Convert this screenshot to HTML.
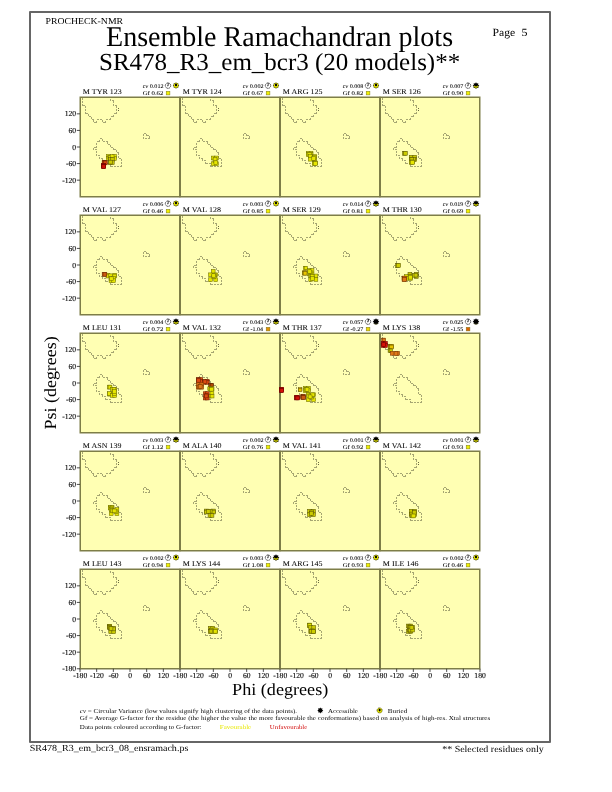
<!DOCTYPE html><html><head><meta charset="utf-8"><title>Ensemble Ramachandran plots</title>
<style>html,body{margin:0;padding:0;background:#fff;}svg{display:block;will-change:transform;}text{font-family:"Liberation Serif",serif;fill:#000;text-rendering:geometricPrecision;}</style></head><body>
<svg width="612" height="792" viewBox="0 0 612 792">
<rect x="0" y="0" width="612" height="792" fill="#fff"/>
<rect x="30" y="12" width="520" height="730" fill="none" stroke="#666" stroke-width="2" stroke-linejoin="round"/>
<text x="45.51" y="23.60" font-size="9.00" textLength="77.60" lengthAdjust="spacingAndGlyphs">PROCHECK-NMR</text>
<text x="492.45" y="35.50" font-size="11.00" textLength="22.75" lengthAdjust="spacingAndGlyphs">Page</text>
<text x="521.48" y="35.50" font-size="11.00" textLength="6.00" lengthAdjust="spacingAndGlyphs">5</text>
<text x="106.06" y="45.90" font-size="28.50" textLength="347.02" lengthAdjust="spacingAndGlyphs">Ensemble Ramachandran plots</text>
<text x="99.02" y="69.50" font-size="24.50" textLength="361.19" lengthAdjust="spacingAndGlyphs">SR478_R3_em_bcr3 (20 models)**</text>
<rect x="80.25" y="97.25" width="99.50" height="99.50" fill="#FFFFB3"/>
<rect x="180.25" y="97.25" width="99.50" height="99.50" fill="#FFFFB3"/>
<rect x="280.25" y="97.25" width="99.50" height="99.50" fill="#FFFFB3"/>
<rect x="380.25" y="97.25" width="99.50" height="99.50" fill="#FFFFB3"/>
<rect x="80.25" y="215.25" width="99.50" height="99.50" fill="#FFFFB3"/>
<rect x="180.25" y="215.25" width="99.50" height="99.50" fill="#FFFFB3"/>
<rect x="280.25" y="215.25" width="99.50" height="99.50" fill="#FFFFB3"/>
<rect x="380.25" y="215.25" width="99.50" height="99.50" fill="#FFFFB3"/>
<rect x="80.25" y="333.25" width="99.50" height="99.50" fill="#FFFFB3"/>
<rect x="180.25" y="333.25" width="99.50" height="99.50" fill="#FFFFB3"/>
<rect x="280.25" y="333.25" width="99.50" height="99.50" fill="#FFFFB3"/>
<rect x="380.25" y="333.25" width="99.50" height="99.50" fill="#FFFFB3"/>
<rect x="80.25" y="451.25" width="99.50" height="99.50" fill="#FFFFB3"/>
<rect x="180.25" y="451.25" width="99.50" height="99.50" fill="#FFFFB3"/>
<rect x="280.25" y="451.25" width="99.50" height="99.50" fill="#FFFFB3"/>
<rect x="380.25" y="451.25" width="99.50" height="99.50" fill="#FFFFB3"/>
<rect x="80.25" y="569.25" width="99.50" height="99.50" fill="#FFFFB3"/>
<rect x="180.25" y="569.25" width="99.50" height="99.50" fill="#FFFFB3"/>
<rect x="280.25" y="569.25" width="99.50" height="99.50" fill="#FFFFB3"/>
<rect x="380.25" y="569.25" width="99.50" height="99.50" fill="#FFFFB3"/>
<rect x="80.25" y="97.25" width="99.50" height="99.50" fill="none" stroke="#7E7E48" stroke-width="1.5"/>
<rect x="180.25" y="97.25" width="99.50" height="99.50" fill="none" stroke="#7E7E48" stroke-width="1.5"/>
<rect x="280.25" y="97.25" width="99.50" height="99.50" fill="none" stroke="#7E7E48" stroke-width="1.5"/>
<rect x="380.25" y="97.25" width="99.50" height="99.50" fill="none" stroke="#7E7E48" stroke-width="1.5"/>
<rect x="80.25" y="215.25" width="99.50" height="99.50" fill="none" stroke="#7E7E48" stroke-width="1.5"/>
<rect x="180.25" y="215.25" width="99.50" height="99.50" fill="none" stroke="#7E7E48" stroke-width="1.5"/>
<rect x="280.25" y="215.25" width="99.50" height="99.50" fill="none" stroke="#7E7E48" stroke-width="1.5"/>
<rect x="380.25" y="215.25" width="99.50" height="99.50" fill="none" stroke="#7E7E48" stroke-width="1.5"/>
<rect x="80.25" y="333.25" width="99.50" height="99.50" fill="none" stroke="#7E7E48" stroke-width="1.5"/>
<rect x="180.25" y="333.25" width="99.50" height="99.50" fill="none" stroke="#7E7E48" stroke-width="1.5"/>
<rect x="280.25" y="333.25" width="99.50" height="99.50" fill="none" stroke="#7E7E48" stroke-width="1.5"/>
<rect x="380.25" y="333.25" width="99.50" height="99.50" fill="none" stroke="#7E7E48" stroke-width="1.5"/>
<rect x="80.25" y="451.25" width="99.50" height="99.50" fill="none" stroke="#7E7E48" stroke-width="1.5"/>
<rect x="180.25" y="451.25" width="99.50" height="99.50" fill="none" stroke="#7E7E48" stroke-width="1.5"/>
<rect x="280.25" y="451.25" width="99.50" height="99.50" fill="none" stroke="#7E7E48" stroke-width="1.5"/>
<rect x="380.25" y="451.25" width="99.50" height="99.50" fill="none" stroke="#7E7E48" stroke-width="1.5"/>
<rect x="80.25" y="569.25" width="99.50" height="99.50" fill="none" stroke="#7E7E48" stroke-width="1.5"/>
<rect x="180.25" y="569.25" width="99.50" height="99.50" fill="none" stroke="#7E7E48" stroke-width="1.5"/>
<rect x="280.25" y="569.25" width="99.50" height="99.50" fill="none" stroke="#7E7E48" stroke-width="1.5"/>
<rect x="380.25" y="569.25" width="99.50" height="99.50" fill="none" stroke="#7E7E48" stroke-width="1.5"/>
<path d="M82.5 97.5 L82.5 105.5 M82.5 105.5 L85.5 105.5 M85.5 105.5 L85.5 113.5 M85.5 113.5 L88.5 113.5 M88.5 113.5 L88.5 116.5 M88.5 116.5 L91.5 116.5 M91.5 116.5 L91.5 119.5 M91.5 119.5 L93.5 119.5 M93.5 119.5 L93.5 122.5 M93.5 122.5 L96.5 122.5 M96.5 122.5 L96.5 119.5 M96.5 119.5 L102.5 119.5 M102.5 119.5 L102.5 122.5 M102.5 122.5 L105.5 122.5 M105.5 122.5 L105.5 119.5 M105.5 119.5 L110.5 119.5 M110.5 119.5 L110.5 116.5 M110.5 116.5 L113.5 116.5 M113.5 116.5 L113.5 113.5 M113.5 113.5 L116.5 113.5 M116.5 113.5 L116.5 105.5 M116.5 105.5 L113.5 105.5 M113.5 105.5 L113.5 100.5 M113.5 100.5 L110.5 100.5 M110.5 100.5 L110.5 97.5 M99.5 138.5 L102.5 138.5 M102.5 138.5 L102.5 141.5 M102.5 141.5 L107.5 141.5 M107.5 141.5 L107.5 144.5 M107.5 144.5 L110.5 144.5 M110.5 144.5 L110.5 147.5 M110.5 147.5 L113.5 147.5 M113.5 147.5 L113.5 149.5 M113.5 149.5 L116.5 149.5 M116.5 149.5 L116.5 152.5 M116.5 152.5 L118.5 152.5 M118.5 152.5 L118.5 158.5 M118.5 158.5 L121.5 158.5 M121.5 158.5 L121.5 166.5 M121.5 166.5 L110.5 166.5 M110.5 166.5 L110.5 163.5 M110.5 163.5 L105.5 163.5 M105.5 163.5 L105.5 160.5 M105.5 160.5 L102.5 160.5 M102.5 160.5 L102.5 158.5 M102.5 158.5 L99.5 158.5 M99.5 158.5 L99.5 155.5 M99.5 155.5 L96.5 155.5 M96.5 155.5 L96.5 149.5 M96.5 149.5 L93.5 149.5 M93.5 149.5 L93.5 147.5 M93.5 147.5 L96.5 147.5 M96.5 147.5 L96.5 141.5 M96.5 141.5 L99.5 141.5 M99.5 141.5 L99.5 138.5 M143.5 133.5 L146.5 133.5 M146.5 133.5 L146.5 135.5 M146.5 135.5 L149.5 135.5 M149.5 135.5 L149.5 138.5 M149.5 138.5 L143.5 138.5 M143.5 138.5 L143.5 133.5" fill="none" stroke="#a6a672" stroke-width="1" stroke-dasharray="2 1" shape-rendering="crispEdges"/>
<rect x="118" y="108" width="1" height="1" fill="#6a6a40"/>
<rect x="118" y="110" width="1" height="1" fill="#6a6a40"/>
<rect x="106.40" y="154.40" width="3.80" height="3.80" fill="#e6e600" stroke="#6e6e00" stroke-width="0.55"/>
<rect x="112.50" y="154.40" width="3.80" height="3.80" fill="#e6e600" stroke="#6e6e00" stroke-width="0.55"/>
<rect x="106.40" y="156.65" width="3.80" height="3.80" fill="#e6e600" stroke="#6e6e00" stroke-width="0.55"/>
<rect x="112.50" y="156.65" width="3.80" height="3.80" fill="#e6e600" stroke="#6e6e00" stroke-width="0.55"/>
<rect x="107.85" y="155.62" width="3.80" height="3.80" fill="#e6e600" stroke="#6e6e00" stroke-width="0.55"/>
<rect x="108.66" y="155.76" width="3.80" height="3.80" fill="#e6e600" stroke="#6e6e00" stroke-width="0.55"/>
<rect x="110.22" y="154.55" width="3.80" height="3.80" fill="#e6e600" stroke="#6e6e00" stroke-width="0.55"/>
<rect x="108.60" y="157.55" width="3.80" height="3.80" fill="#cccc00" stroke="#5c5800" stroke-width="0.55"/>
<rect x="110.40" y="157.55" width="3.80" height="3.80" fill="#cccc00" stroke="#5c5800" stroke-width="0.55"/>
<rect x="108.60" y="160.70" width="3.80" height="3.80" fill="#cccc00" stroke="#5c5800" stroke-width="0.55"/>
<rect x="110.40" y="160.70" width="3.80" height="3.80" fill="#cccc00" stroke="#5c5800" stroke-width="0.55"/>
<rect x="108.62" y="160.19" width="3.80" height="3.80" fill="#cccc00" stroke="#5c5800" stroke-width="0.55"/>
<rect x="102.20" y="160.50" width="3.80" height="3.80" fill="#dc4a10" stroke="#6a2000" stroke-width="0.55"/>
<rect x="103.30" y="160.50" width="3.80" height="3.80" fill="#dc4a10" stroke="#6a2000" stroke-width="0.55"/>
<rect x="102.20" y="161.00" width="3.80" height="3.80" fill="#dc4a10" stroke="#6a2000" stroke-width="0.55"/>
<rect x="103.30" y="161.00" width="3.80" height="3.80" fill="#dc4a10" stroke="#6a2000" stroke-width="0.55"/>
<rect x="101.50" y="163.55" width="3.80" height="3.80" fill="#d41008" stroke="#6a0000" stroke-width="0.55"/>
<rect x="101.90" y="163.55" width="3.80" height="3.80" fill="#d41008" stroke="#6a0000" stroke-width="0.55"/>
<rect x="101.50" y="164.70" width="3.80" height="3.80" fill="#d41008" stroke="#6a0000" stroke-width="0.55"/>
<rect x="101.90" y="164.70" width="3.80" height="3.80" fill="#d41008" stroke="#6a0000" stroke-width="0.55"/>
<text x="82.86" y="93.95" font-size="7.30" textLength="38.98" lengthAdjust="spacingAndGlyphs" stroke="#000" stroke-width="0.04">M TYR 123</text>
<text x="142.76" y="87.70" font-size="5.60" textLength="20.77" lengthAdjust="spacingAndGlyphs" stroke="#000" stroke-width="0.06"><tspan font-style="italic">cv</tspan> 0.012</text>
<text x="142.73" y="94.60" font-size="5.60" textLength="20.64" lengthAdjust="spacingAndGlyphs" stroke="#000" stroke-width="0.06">Gf 0.62</text>
<circle cx="168.00" cy="85.65" r="2.7" fill="#fff" stroke="#000" stroke-width="0.65" stroke-dasharray="1.5 0.35"/>
<path d="M168.20 82.95 L168.20 85.75 L167.10 85.75" fill="none" stroke="#000" stroke-width="0.7"/>
<polygon points="176.00,82.35 176.96,83.24 178.26,83.29 178.31,84.59 179.20,85.55 178.31,86.51 178.26,87.81 176.96,87.86 176.00,88.75 175.04,87.86 173.74,87.81 173.69,86.51 172.80,85.55 173.69,84.59 173.74,83.29 175.04,83.24" fill="#3c3c00"/>
<circle cx="176.00" cy="85.55" r="2.2" fill="#e8e800"/>
<ellipse cx="176.00" cy="85.05" rx="1.1" ry="1.3" fill="#000"/>
<rect x="166.20" y="91.30" width="3.7" height="3.6" fill="#f0f000" stroke="#7a7a20" stroke-width="0.5"/>
<path d="M182.5 97.5 L182.5 105.5 M182.5 105.5 L185.5 105.5 M185.5 105.5 L185.5 113.5 M185.5 113.5 L188.5 113.5 M188.5 113.5 L188.5 116.5 M188.5 116.5 L191.5 116.5 M191.5 116.5 L191.5 119.5 M191.5 119.5 L193.5 119.5 M193.5 119.5 L193.5 122.5 M193.5 122.5 L196.5 122.5 M196.5 122.5 L196.5 119.5 M196.5 119.5 L202.5 119.5 M202.5 119.5 L202.5 122.5 M202.5 122.5 L205.5 122.5 M205.5 122.5 L205.5 119.5 M205.5 119.5 L210.5 119.5 M210.5 119.5 L210.5 116.5 M210.5 116.5 L213.5 116.5 M213.5 116.5 L213.5 113.5 M213.5 113.5 L216.5 113.5 M216.5 113.5 L216.5 105.5 M216.5 105.5 L213.5 105.5 M213.5 105.5 L213.5 100.5 M213.5 100.5 L210.5 100.5 M210.5 100.5 L210.5 97.5 M199.5 138.5 L202.5 138.5 M202.5 138.5 L202.5 141.5 M202.5 141.5 L207.5 141.5 M207.5 141.5 L207.5 144.5 M207.5 144.5 L210.5 144.5 M210.5 144.5 L210.5 147.5 M210.5 147.5 L213.5 147.5 M213.5 147.5 L213.5 149.5 M213.5 149.5 L216.5 149.5 M216.5 149.5 L216.5 152.5 M216.5 152.5 L218.5 152.5 M218.5 152.5 L218.5 158.5 M218.5 158.5 L221.5 158.5 M221.5 158.5 L221.5 166.5 M221.5 166.5 L210.5 166.5 M210.5 166.5 L210.5 163.5 M210.5 163.5 L205.5 163.5 M205.5 163.5 L205.5 160.5 M205.5 160.5 L202.5 160.5 M202.5 160.5 L202.5 158.5 M202.5 158.5 L199.5 158.5 M199.5 158.5 L199.5 155.5 M199.5 155.5 L196.5 155.5 M196.5 155.5 L196.5 149.5 M196.5 149.5 L193.5 149.5 M193.5 149.5 L193.5 147.5 M193.5 147.5 L196.5 147.5 M196.5 147.5 L196.5 141.5 M196.5 141.5 L199.5 141.5 M199.5 141.5 L199.5 138.5 M243.5 133.5 L246.5 133.5 M246.5 133.5 L246.5 135.5 M246.5 135.5 L249.5 135.5 M249.5 135.5 L249.5 138.5 M249.5 138.5 L243.5 138.5 M243.5 138.5 L243.5 133.5" fill="none" stroke="#a6a672" stroke-width="1" stroke-dasharray="2 1" shape-rendering="crispEdges"/>
<rect x="218" y="108" width="1" height="1" fill="#6a6a40"/>
<rect x="218" y="110" width="1" height="1" fill="#6a6a40"/>
<rect x="211.30" y="156.10" width="3.80" height="3.80" fill="#e6e600" stroke="#6e6e00" stroke-width="0.55"/>
<rect x="214.50" y="156.10" width="3.80" height="3.80" fill="#e6e600" stroke="#6e6e00" stroke-width="0.55"/>
<rect x="211.30" y="161.80" width="3.80" height="3.80" fill="#e6e600" stroke="#6e6e00" stroke-width="0.55"/>
<rect x="214.50" y="161.80" width="3.80" height="3.80" fill="#e6e600" stroke="#6e6e00" stroke-width="0.55"/>
<rect x="213.13" y="158.54" width="3.80" height="3.80" fill="#e6e600" stroke="#6e6e00" stroke-width="0.55"/>
<rect x="213.15" y="157.27" width="3.80" height="3.80" fill="#e6e600" stroke="#6e6e00" stroke-width="0.55"/>
<rect x="213.90" y="160.79" width="3.80" height="3.80" fill="#e6e600" stroke="#6e6e00" stroke-width="0.55"/>
<text x="182.86" y="93.95" font-size="7.30" textLength="38.98" lengthAdjust="spacingAndGlyphs" stroke="#000" stroke-width="0.04">M TYR 124</text>
<text x="242.76" y="87.70" font-size="5.60" textLength="20.77" lengthAdjust="spacingAndGlyphs" stroke="#000" stroke-width="0.06"><tspan font-style="italic">cv</tspan> 0.002</text>
<text x="242.73" y="94.60" font-size="5.60" textLength="20.47" lengthAdjust="spacingAndGlyphs" stroke="#000" stroke-width="0.06">Gf 0.67</text>
<circle cx="268.00" cy="85.65" r="2.7" fill="#fff" stroke="#000" stroke-width="0.65" stroke-dasharray="1.5 0.35"/>
<path d="M268.20 82.95 L268.20 85.75 L267.10 85.75" fill="none" stroke="#000" stroke-width="0.7"/>
<polygon points="276.00,82.35 276.96,83.24 278.26,83.29 278.31,84.59 279.20,85.55 278.31,86.51 278.26,87.81 276.96,87.86 276.00,88.75 275.04,87.86 273.74,87.81 273.69,86.51 272.80,85.55 273.69,84.59 273.74,83.29 275.04,83.24" fill="#3c3c00"/>
<circle cx="276.00" cy="85.55" r="2.2" fill="#e8e800"/>
<ellipse cx="276.00" cy="85.05" rx="1.1" ry="1.3" fill="#000"/>
<rect x="266.20" y="91.30" width="3.7" height="3.6" fill="#f0f000" stroke="#7a7a20" stroke-width="0.5"/>
<path d="M282.5 97.5 L282.5 105.5 M282.5 105.5 L285.5 105.5 M285.5 105.5 L285.5 113.5 M285.5 113.5 L288.5 113.5 M288.5 113.5 L288.5 116.5 M288.5 116.5 L291.5 116.5 M291.5 116.5 L291.5 119.5 M291.5 119.5 L293.5 119.5 M293.5 119.5 L293.5 122.5 M293.5 122.5 L296.5 122.5 M296.5 122.5 L296.5 119.5 M296.5 119.5 L302.5 119.5 M302.5 119.5 L302.5 122.5 M302.5 122.5 L305.5 122.5 M305.5 122.5 L305.5 119.5 M305.5 119.5 L310.5 119.5 M310.5 119.5 L310.5 116.5 M310.5 116.5 L313.5 116.5 M313.5 116.5 L313.5 113.5 M313.5 113.5 L316.5 113.5 M316.5 113.5 L316.5 105.5 M316.5 105.5 L313.5 105.5 M313.5 105.5 L313.5 100.5 M313.5 100.5 L310.5 100.5 M310.5 100.5 L310.5 97.5 M299.5 138.5 L302.5 138.5 M302.5 138.5 L302.5 141.5 M302.5 141.5 L307.5 141.5 M307.5 141.5 L307.5 144.5 M307.5 144.5 L310.5 144.5 M310.5 144.5 L310.5 147.5 M310.5 147.5 L313.5 147.5 M313.5 147.5 L313.5 149.5 M313.5 149.5 L316.5 149.5 M316.5 149.5 L316.5 152.5 M316.5 152.5 L318.5 152.5 M318.5 152.5 L318.5 158.5 M318.5 158.5 L321.5 158.5 M321.5 158.5 L321.5 166.5 M321.5 166.5 L310.5 166.5 M310.5 166.5 L310.5 163.5 M310.5 163.5 L305.5 163.5 M305.5 163.5 L305.5 160.5 M305.5 160.5 L302.5 160.5 M302.5 160.5 L302.5 158.5 M302.5 158.5 L299.5 158.5 M299.5 158.5 L299.5 155.5 M299.5 155.5 L296.5 155.5 M296.5 155.5 L296.5 149.5 M296.5 149.5 L293.5 149.5 M293.5 149.5 L293.5 147.5 M293.5 147.5 L296.5 147.5 M296.5 147.5 L296.5 141.5 M296.5 141.5 L299.5 141.5 M299.5 141.5 L299.5 138.5 M343.5 133.5 L346.5 133.5 M346.5 133.5 L346.5 135.5 M346.5 135.5 L349.5 135.5 M349.5 135.5 L349.5 138.5 M349.5 138.5 L343.5 138.5 M343.5 138.5 L343.5 133.5" fill="none" stroke="#a6a672" stroke-width="1" stroke-dasharray="2 1" shape-rendering="crispEdges"/>
<rect x="318" y="108" width="1" height="1" fill="#6a6a40"/>
<rect x="318" y="110" width="1" height="1" fill="#6a6a40"/>
<rect x="306.40" y="151.40" width="3.80" height="3.80" fill="#e6e600" stroke="#6e6e00" stroke-width="0.55"/>
<rect x="309.10" y="151.40" width="3.80" height="3.80" fill="#e6e600" stroke="#6e6e00" stroke-width="0.55"/>
<rect x="306.40" y="152.70" width="3.80" height="3.80" fill="#e6e600" stroke="#6e6e00" stroke-width="0.55"/>
<rect x="309.10" y="152.70" width="3.80" height="3.80" fill="#e6e600" stroke="#6e6e00" stroke-width="0.55"/>
<rect x="307.81" y="152.45" width="3.80" height="3.80" fill="#e6e600" stroke="#6e6e00" stroke-width="0.55"/>
<rect x="308.40" y="154.60" width="3.80" height="3.80" fill="#e6e600" stroke="#6e6e00" stroke-width="0.55"/>
<rect x="312.80" y="154.60" width="3.80" height="3.80" fill="#e6e600" stroke="#6e6e00" stroke-width="0.55"/>
<rect x="308.40" y="157.30" width="3.80" height="3.80" fill="#e6e600" stroke="#6e6e00" stroke-width="0.55"/>
<rect x="312.80" y="157.30" width="3.80" height="3.80" fill="#e6e600" stroke="#6e6e00" stroke-width="0.55"/>
<rect x="312.63" y="155.38" width="3.80" height="3.80" fill="#e6e600" stroke="#6e6e00" stroke-width="0.55"/>
<rect x="311.77" y="156.50" width="3.80" height="3.80" fill="#e6e600" stroke="#6e6e00" stroke-width="0.55"/>
<rect x="312.30" y="161.00" width="3.80" height="3.80" fill="#e6e600" stroke="#6e6e00" stroke-width="0.55"/>
<rect x="313.50" y="161.00" width="3.80" height="3.80" fill="#e6e600" stroke="#6e6e00" stroke-width="0.55"/>
<rect x="312.30" y="161.50" width="3.80" height="3.80" fill="#e6e600" stroke="#6e6e00" stroke-width="0.55"/>
<rect x="313.50" y="161.50" width="3.80" height="3.80" fill="#e6e600" stroke="#6e6e00" stroke-width="0.55"/>
<text x="282.86" y="93.95" font-size="7.30" textLength="39.58" lengthAdjust="spacingAndGlyphs" stroke="#000" stroke-width="0.04">M ARG 125</text>
<text x="342.76" y="87.70" font-size="5.60" textLength="20.67" lengthAdjust="spacingAndGlyphs" stroke="#000" stroke-width="0.06"><tspan font-style="italic">cv</tspan> 0.008</text>
<text x="342.73" y="94.60" font-size="5.60" textLength="20.64" lengthAdjust="spacingAndGlyphs" stroke="#000" stroke-width="0.06">Gf 0.82</text>
<circle cx="368.00" cy="85.65" r="2.7" fill="#fff" stroke="#000" stroke-width="0.65" stroke-dasharray="1.5 0.35"/>
<path d="M368.20 82.95 L368.20 85.75 L367.10 85.75" fill="none" stroke="#000" stroke-width="0.7"/>
<polygon points="376.00,82.35 376.96,83.24 378.26,83.29 378.31,84.59 379.20,85.55 378.31,86.51 378.26,87.81 376.96,87.86 376.00,88.75 375.04,87.86 373.74,87.81 373.69,86.51 372.80,85.55 373.69,84.59 373.74,83.29 375.04,83.24" fill="#3c3c00"/>
<circle cx="376.00" cy="85.55" r="2.2" fill="#e8e800"/>
<ellipse cx="376.00" cy="85.05" rx="1.1" ry="1.3" fill="#000"/>
<rect x="366.20" y="91.30" width="3.7" height="3.6" fill="#f0f000" stroke="#7a7a20" stroke-width="0.5"/>
<path d="M382.5 97.5 L382.5 105.5 M382.5 105.5 L385.5 105.5 M385.5 105.5 L385.5 113.5 M385.5 113.5 L388.5 113.5 M388.5 113.5 L388.5 116.5 M388.5 116.5 L391.5 116.5 M391.5 116.5 L391.5 119.5 M391.5 119.5 L393.5 119.5 M393.5 119.5 L393.5 122.5 M393.5 122.5 L396.5 122.5 M396.5 122.5 L396.5 119.5 M396.5 119.5 L402.5 119.5 M402.5 119.5 L402.5 122.5 M402.5 122.5 L405.5 122.5 M405.5 122.5 L405.5 119.5 M405.5 119.5 L410.5 119.5 M410.5 119.5 L410.5 116.5 M410.5 116.5 L413.5 116.5 M413.5 116.5 L413.5 113.5 M413.5 113.5 L416.5 113.5 M416.5 113.5 L416.5 105.5 M416.5 105.5 L413.5 105.5 M413.5 105.5 L413.5 100.5 M413.5 100.5 L410.5 100.5 M410.5 100.5 L410.5 97.5 M399.5 138.5 L402.5 138.5 M402.5 138.5 L402.5 141.5 M402.5 141.5 L407.5 141.5 M407.5 141.5 L407.5 144.5 M407.5 144.5 L410.5 144.5 M410.5 144.5 L410.5 147.5 M410.5 147.5 L413.5 147.5 M413.5 147.5 L413.5 149.5 M413.5 149.5 L416.5 149.5 M416.5 149.5 L416.5 152.5 M416.5 152.5 L418.5 152.5 M418.5 152.5 L418.5 158.5 M418.5 158.5 L421.5 158.5 M421.5 158.5 L421.5 166.5 M421.5 166.5 L410.5 166.5 M410.5 166.5 L410.5 163.5 M410.5 163.5 L405.5 163.5 M405.5 163.5 L405.5 160.5 M405.5 160.5 L402.5 160.5 M402.5 160.5 L402.5 158.5 M402.5 158.5 L399.5 158.5 M399.5 158.5 L399.5 155.5 M399.5 155.5 L396.5 155.5 M396.5 155.5 L396.5 149.5 M396.5 149.5 L393.5 149.5 M393.5 149.5 L393.5 147.5 M393.5 147.5 L396.5 147.5 M396.5 147.5 L396.5 141.5 M396.5 141.5 L399.5 141.5 M399.5 141.5 L399.5 138.5 M443.5 133.5 L446.5 133.5 M446.5 133.5 L446.5 135.5 M446.5 135.5 L449.5 135.5 M449.5 135.5 L449.5 138.5 M449.5 138.5 L443.5 138.5 M443.5 138.5 L443.5 133.5" fill="none" stroke="#a6a672" stroke-width="1" stroke-dasharray="2 1" shape-rendering="crispEdges"/>
<rect x="418" y="108" width="1" height="1" fill="#6a6a40"/>
<rect x="418" y="110" width="1" height="1" fill="#6a6a40"/>
<rect x="402.50" y="151.40" width="3.80" height="3.80" fill="#cccc00" stroke="#5c5800" stroke-width="0.55"/>
<rect x="403.50" y="151.40" width="3.80" height="3.80" fill="#cccc00" stroke="#5c5800" stroke-width="0.55"/>
<rect x="409.30" y="155.30" width="3.80" height="3.80" fill="#cccc00" stroke="#5c5800" stroke-width="0.55"/>
<rect x="412.80" y="155.30" width="3.80" height="3.80" fill="#cccc00" stroke="#5c5800" stroke-width="0.55"/>
<rect x="409.30" y="157.65" width="3.80" height="3.80" fill="#cccc00" stroke="#5c5800" stroke-width="0.55"/>
<rect x="412.80" y="157.65" width="3.80" height="3.80" fill="#cccc00" stroke="#5c5800" stroke-width="0.55"/>
<rect x="411.79" y="157.27" width="3.80" height="3.80" fill="#cccc00" stroke="#5c5800" stroke-width="0.55"/>
<rect x="409.94" y="157.65" width="3.80" height="3.80" fill="#cccc00" stroke="#5c5800" stroke-width="0.55"/>
<rect x="409.60" y="160.05" width="3.80" height="3.80" fill="#e6e600" stroke="#6e6e00" stroke-width="0.55"/>
<rect x="410.60" y="160.05" width="3.80" height="3.80" fill="#e6e600" stroke="#6e6e00" stroke-width="0.55"/>
<rect x="409.60" y="160.45" width="3.80" height="3.80" fill="#e6e600" stroke="#6e6e00" stroke-width="0.55"/>
<rect x="410.60" y="160.45" width="3.80" height="3.80" fill="#e6e600" stroke="#6e6e00" stroke-width="0.55"/>
<text x="382.86" y="93.95" font-size="7.30" textLength="37.80" lengthAdjust="spacingAndGlyphs" stroke="#000" stroke-width="0.04">M SER 126</text>
<text x="442.76" y="87.70" font-size="5.60" textLength="20.61" lengthAdjust="spacingAndGlyphs" stroke="#000" stroke-width="0.06"><tspan font-style="italic">cv</tspan> 0.007</text>
<text x="442.73" y="94.60" font-size="5.60" textLength="20.54" lengthAdjust="spacingAndGlyphs" stroke="#000" stroke-width="0.06">Gf 0.90</text>
<circle cx="468.00" cy="85.65" r="2.7" fill="#fff" stroke="#000" stroke-width="0.65" stroke-dasharray="1.5 0.35"/>
<path d="M468.20 82.95 L468.20 85.75 L467.10 85.75" fill="none" stroke="#000" stroke-width="0.7"/>
<polygon points="476.00,82.25 476.88,83.43 478.33,83.22 478.12,84.67 479.30,85.55 478.12,86.43 478.33,87.88 476.88,87.67 476.00,88.85 475.12,87.67 473.67,87.88 473.88,86.43 472.70,85.55 473.88,84.67 473.67,83.22 475.12,83.43" fill="#000"/>
<polygon points="479.30,85.55 478.12,86.43 478.33,87.88 476.88,87.67 476.00,88.85 475.12,87.67 473.67,87.88 473.88,86.43 472.70,85.55" fill="#3c3c00"/>
<path d="M474.00 85.75 A2.0 2.0 0 0 0 478.00 85.75 Z" fill="#e8e800"/>
<circle cx="476.00" cy="85.25" r="1.25" fill="#000"/>
<rect x="466.20" y="91.30" width="3.7" height="3.6" fill="#f0f000" stroke="#7a7a20" stroke-width="0.5"/>
<path d="M82.5 215.5 L82.5 223.5 M82.5 223.5 L85.5 223.5 M85.5 223.5 L85.5 231.5 M85.5 231.5 L88.5 231.5 M88.5 231.5 L88.5 234.5 M88.5 234.5 L91.5 234.5 M91.5 234.5 L91.5 237.5 M91.5 237.5 L93.5 237.5 M93.5 237.5 L93.5 240.5 M93.5 240.5 L96.5 240.5 M96.5 240.5 L96.5 237.5 M96.5 237.5 L102.5 237.5 M102.5 237.5 L102.5 240.5 M102.5 240.5 L105.5 240.5 M105.5 240.5 L105.5 237.5 M105.5 237.5 L110.5 237.5 M110.5 237.5 L110.5 234.5 M110.5 234.5 L113.5 234.5 M113.5 234.5 L113.5 231.5 M113.5 231.5 L116.5 231.5 M116.5 231.5 L116.5 223.5 M116.5 223.5 L113.5 223.5 M113.5 223.5 L113.5 218.5 M113.5 218.5 L110.5 218.5 M110.5 218.5 L110.5 215.5 M99.5 256.5 L102.5 256.5 M102.5 256.5 L102.5 259.5 M102.5 259.5 L107.5 259.5 M107.5 259.5 L107.5 262.5 M107.5 262.5 L110.5 262.5 M110.5 262.5 L110.5 265.5 M110.5 265.5 L113.5 265.5 M113.5 265.5 L113.5 267.5 M113.5 267.5 L116.5 267.5 M116.5 267.5 L116.5 270.5 M116.5 270.5 L118.5 270.5 M118.5 270.5 L118.5 276.5 M118.5 276.5 L121.5 276.5 M121.5 276.5 L121.5 284.5 M121.5 284.5 L110.5 284.5 M110.5 284.5 L110.5 281.5 M110.5 281.5 L105.5 281.5 M105.5 281.5 L105.5 278.5 M105.5 278.5 L102.5 278.5 M102.5 278.5 L102.5 276.5 M102.5 276.5 L99.5 276.5 M99.5 276.5 L99.5 273.5 M99.5 273.5 L96.5 273.5 M96.5 273.5 L96.5 267.5 M96.5 267.5 L93.5 267.5 M93.5 267.5 L93.5 265.5 M93.5 265.5 L96.5 265.5 M96.5 265.5 L96.5 259.5 M96.5 259.5 L99.5 259.5 M99.5 259.5 L99.5 256.5 M143.5 251.5 L146.5 251.5 M146.5 251.5 L146.5 253.5 M146.5 253.5 L149.5 253.5 M149.5 253.5 L149.5 256.5 M149.5 256.5 L143.5 256.5 M143.5 256.5 L143.5 251.5" fill="none" stroke="#a6a672" stroke-width="1" stroke-dasharray="2 1" shape-rendering="crispEdges"/>
<rect x="118" y="226" width="1" height="1" fill="#6a6a40"/>
<rect x="118" y="228" width="1" height="1" fill="#6a6a40"/>
<rect x="106.10" y="273.30" width="3.80" height="3.80" fill="#e6e600" stroke="#6e6e00" stroke-width="0.55"/>
<rect x="112.80" y="273.30" width="3.80" height="3.80" fill="#e6e600" stroke="#6e6e00" stroke-width="0.55"/>
<rect x="106.10" y="274.15" width="3.80" height="3.80" fill="#e6e600" stroke="#6e6e00" stroke-width="0.55"/>
<rect x="112.80" y="274.15" width="3.80" height="3.80" fill="#e6e600" stroke="#6e6e00" stroke-width="0.55"/>
<rect x="108.73" y="273.88" width="3.80" height="3.80" fill="#e6e600" stroke="#6e6e00" stroke-width="0.55"/>
<rect x="109.10" y="276.55" width="3.80" height="3.80" fill="#e6e600" stroke="#6e6e00" stroke-width="0.55"/>
<rect x="111.50" y="276.55" width="3.80" height="3.80" fill="#e6e600" stroke="#6e6e00" stroke-width="0.55"/>
<rect x="109.10" y="278.80" width="3.80" height="3.80" fill="#e6e600" stroke="#6e6e00" stroke-width="0.55"/>
<rect x="111.50" y="278.80" width="3.80" height="3.80" fill="#e6e600" stroke="#6e6e00" stroke-width="0.55"/>
<rect x="109.43" y="276.80" width="3.80" height="3.80" fill="#e6e600" stroke="#6e6e00" stroke-width="0.55"/>
<rect x="102.20" y="272.40" width="3.80" height="3.80" fill="#cc5a10" stroke="#6a2800" stroke-width="0.55"/>
<rect x="103.00" y="272.40" width="3.80" height="3.80" fill="#cc5a10" stroke="#6a2800" stroke-width="0.55"/>
<text x="82.86" y="211.95" font-size="7.30" textLength="38.09" lengthAdjust="spacingAndGlyphs" stroke="#000" stroke-width="0.04">M VAL 127</text>
<text x="142.76" y="205.70" font-size="5.60" textLength="20.61" lengthAdjust="spacingAndGlyphs" stroke="#000" stroke-width="0.06"><tspan font-style="italic">cv</tspan> 0.006</text>
<text x="142.73" y="212.60" font-size="5.60" textLength="20.47" lengthAdjust="spacingAndGlyphs" stroke="#000" stroke-width="0.06">Gf 0.46</text>
<circle cx="168.00" cy="203.65" r="2.7" fill="#fff" stroke="#000" stroke-width="0.65" stroke-dasharray="1.5 0.35"/>
<path d="M168.20 200.95 L168.20 203.75 L167.10 203.75" fill="none" stroke="#000" stroke-width="0.7"/>
<polygon points="176.00,200.35 176.96,201.24 178.26,201.29 178.31,202.59 179.20,203.55 178.31,204.51 178.26,205.81 176.96,205.86 176.00,206.75 175.04,205.86 173.74,205.81 173.69,204.51 172.80,203.55 173.69,202.59 173.74,201.29 175.04,201.24" fill="#3c3c00"/>
<circle cx="176.00" cy="203.55" r="2.2" fill="#e8e800"/>
<ellipse cx="176.00" cy="203.05" rx="1.1" ry="1.3" fill="#000"/>
<rect x="166.20" y="209.30" width="3.7" height="3.6" fill="#f0f000" stroke="#7a7a20" stroke-width="0.5"/>
<path d="M182.5 215.5 L182.5 223.5 M182.5 223.5 L185.5 223.5 M185.5 223.5 L185.5 231.5 M185.5 231.5 L188.5 231.5 M188.5 231.5 L188.5 234.5 M188.5 234.5 L191.5 234.5 M191.5 234.5 L191.5 237.5 M191.5 237.5 L193.5 237.5 M193.5 237.5 L193.5 240.5 M193.5 240.5 L196.5 240.5 M196.5 240.5 L196.5 237.5 M196.5 237.5 L202.5 237.5 M202.5 237.5 L202.5 240.5 M202.5 240.5 L205.5 240.5 M205.5 240.5 L205.5 237.5 M205.5 237.5 L210.5 237.5 M210.5 237.5 L210.5 234.5 M210.5 234.5 L213.5 234.5 M213.5 234.5 L213.5 231.5 M213.5 231.5 L216.5 231.5 M216.5 231.5 L216.5 223.5 M216.5 223.5 L213.5 223.5 M213.5 223.5 L213.5 218.5 M213.5 218.5 L210.5 218.5 M210.5 218.5 L210.5 215.5 M199.5 256.5 L202.5 256.5 M202.5 256.5 L202.5 259.5 M202.5 259.5 L207.5 259.5 M207.5 259.5 L207.5 262.5 M207.5 262.5 L210.5 262.5 M210.5 262.5 L210.5 265.5 M210.5 265.5 L213.5 265.5 M213.5 265.5 L213.5 267.5 M213.5 267.5 L216.5 267.5 M216.5 267.5 L216.5 270.5 M216.5 270.5 L218.5 270.5 M218.5 270.5 L218.5 276.5 M218.5 276.5 L221.5 276.5 M221.5 276.5 L221.5 284.5 M221.5 284.5 L210.5 284.5 M210.5 284.5 L210.5 281.5 M210.5 281.5 L205.5 281.5 M205.5 281.5 L205.5 278.5 M205.5 278.5 L202.5 278.5 M202.5 278.5 L202.5 276.5 M202.5 276.5 L199.5 276.5 M199.5 276.5 L199.5 273.5 M199.5 273.5 L196.5 273.5 M196.5 273.5 L196.5 267.5 M196.5 267.5 L193.5 267.5 M193.5 267.5 L193.5 265.5 M193.5 265.5 L196.5 265.5 M196.5 265.5 L196.5 259.5 M196.5 259.5 L199.5 259.5 M199.5 259.5 L199.5 256.5 M243.5 251.5 L246.5 251.5 M246.5 251.5 L246.5 253.5 M246.5 253.5 L249.5 253.5 M249.5 253.5 L249.5 256.5 M249.5 256.5 L243.5 256.5 M243.5 256.5 L243.5 251.5" fill="none" stroke="#a6a672" stroke-width="1" stroke-dasharray="2 1" shape-rendering="crispEdges"/>
<rect x="218" y="226" width="1" height="1" fill="#6a6a40"/>
<rect x="218" y="228" width="1" height="1" fill="#6a6a40"/>
<rect x="211.30" y="269.40" width="3.80" height="3.80" fill="#e6e600" stroke="#6e6e00" stroke-width="0.55"/>
<rect x="208.60" y="272.90" width="3.80" height="3.80" fill="#e6e600" stroke="#6e6e00" stroke-width="0.55"/>
<rect x="213.80" y="272.90" width="3.80" height="3.80" fill="#e6e600" stroke="#6e6e00" stroke-width="0.55"/>
<rect x="208.60" y="277.80" width="3.80" height="3.80" fill="#e6e600" stroke="#6e6e00" stroke-width="0.55"/>
<rect x="213.80" y="277.80" width="3.80" height="3.80" fill="#e6e600" stroke="#6e6e00" stroke-width="0.55"/>
<rect x="211.93" y="275.00" width="3.80" height="3.80" fill="#e6e600" stroke="#6e6e00" stroke-width="0.55"/>
<rect x="212.37" y="273.22" width="3.80" height="3.80" fill="#e6e600" stroke="#6e6e00" stroke-width="0.55"/>
<rect x="212.23" y="274.74" width="3.80" height="3.80" fill="#e6e600" stroke="#6e6e00" stroke-width="0.55"/>
<rect x="211.76" y="273.73" width="3.80" height="3.80" fill="#e6e600" stroke="#6e6e00" stroke-width="0.55"/>
<text x="182.86" y="211.95" font-size="7.30" textLength="38.09" lengthAdjust="spacingAndGlyphs" stroke="#000" stroke-width="0.04">M VAL 128</text>
<text x="242.76" y="205.70" font-size="5.60" textLength="20.67" lengthAdjust="spacingAndGlyphs" stroke="#000" stroke-width="0.06"><tspan font-style="italic">cv</tspan> 0.003</text>
<text x="242.73" y="212.60" font-size="5.60" textLength="20.54" lengthAdjust="spacingAndGlyphs" stroke="#000" stroke-width="0.06">Gf 0.85</text>
<circle cx="268.00" cy="203.65" r="2.7" fill="#fff" stroke="#000" stroke-width="0.65" stroke-dasharray="1.5 0.35"/>
<path d="M268.20 200.95 L268.20 203.75 L267.10 203.75" fill="none" stroke="#000" stroke-width="0.7"/>
<polygon points="276.00,200.35 276.96,201.24 278.26,201.29 278.31,202.59 279.20,203.55 278.31,204.51 278.26,205.81 276.96,205.86 276.00,206.75 275.04,205.86 273.74,205.81 273.69,204.51 272.80,203.55 273.69,202.59 273.74,201.29 275.04,201.24" fill="#3c3c00"/>
<circle cx="276.00" cy="203.55" r="2.2" fill="#e8e800"/>
<ellipse cx="276.00" cy="203.05" rx="1.1" ry="1.3" fill="#000"/>
<rect x="266.20" y="209.30" width="3.7" height="3.6" fill="#f0f000" stroke="#7a7a20" stroke-width="0.5"/>
<path d="M282.5 215.5 L282.5 223.5 M282.5 223.5 L285.5 223.5 M285.5 223.5 L285.5 231.5 M285.5 231.5 L288.5 231.5 M288.5 231.5 L288.5 234.5 M288.5 234.5 L291.5 234.5 M291.5 234.5 L291.5 237.5 M291.5 237.5 L293.5 237.5 M293.5 237.5 L293.5 240.5 M293.5 240.5 L296.5 240.5 M296.5 240.5 L296.5 237.5 M296.5 237.5 L302.5 237.5 M302.5 237.5 L302.5 240.5 M302.5 240.5 L305.5 240.5 M305.5 240.5 L305.5 237.5 M305.5 237.5 L310.5 237.5 M310.5 237.5 L310.5 234.5 M310.5 234.5 L313.5 234.5 M313.5 234.5 L313.5 231.5 M313.5 231.5 L316.5 231.5 M316.5 231.5 L316.5 223.5 M316.5 223.5 L313.5 223.5 M313.5 223.5 L313.5 218.5 M313.5 218.5 L310.5 218.5 M310.5 218.5 L310.5 215.5 M299.5 256.5 L302.5 256.5 M302.5 256.5 L302.5 259.5 M302.5 259.5 L307.5 259.5 M307.5 259.5 L307.5 262.5 M307.5 262.5 L310.5 262.5 M310.5 262.5 L310.5 265.5 M310.5 265.5 L313.5 265.5 M313.5 265.5 L313.5 267.5 M313.5 267.5 L316.5 267.5 M316.5 267.5 L316.5 270.5 M316.5 270.5 L318.5 270.5 M318.5 270.5 L318.5 276.5 M318.5 276.5 L321.5 276.5 M321.5 276.5 L321.5 284.5 M321.5 284.5 L310.5 284.5 M310.5 284.5 L310.5 281.5 M310.5 281.5 L305.5 281.5 M305.5 281.5 L305.5 278.5 M305.5 278.5 L302.5 278.5 M302.5 278.5 L302.5 276.5 M302.5 276.5 L299.5 276.5 M299.5 276.5 L299.5 273.5 M299.5 273.5 L296.5 273.5 M296.5 273.5 L296.5 267.5 M296.5 267.5 L293.5 267.5 M293.5 267.5 L293.5 265.5 M293.5 265.5 L296.5 265.5 M296.5 265.5 L296.5 259.5 M296.5 259.5 L299.5 259.5 M299.5 259.5 L299.5 256.5 M343.5 251.5 L346.5 251.5 M346.5 251.5 L346.5 253.5 M346.5 253.5 L349.5 253.5 M349.5 253.5 L349.5 256.5 M349.5 256.5 L343.5 256.5 M343.5 256.5 L343.5 251.5" fill="none" stroke="#a6a672" stroke-width="1" stroke-dasharray="2 1" shape-rendering="crispEdges"/>
<rect x="318" y="226" width="1" height="1" fill="#6a6a40"/>
<rect x="318" y="228" width="1" height="1" fill="#6a6a40"/>
<rect x="303.40" y="266.40" width="3.30" height="3.30" fill="#e6e600" stroke="#6e6e00" stroke-width="0.55"/>
<rect x="304.20" y="266.40" width="3.30" height="3.30" fill="#e6e600" stroke="#6e6e00" stroke-width="0.55"/>
<rect x="302.70" y="270.80" width="3.80" height="3.80" fill="#e8c400" stroke="#6e5a00" stroke-width="0.55"/>
<rect x="303.20" y="270.80" width="3.80" height="3.80" fill="#e8c400" stroke="#6e5a00" stroke-width="0.55"/>
<rect x="302.70" y="271.30" width="3.80" height="3.80" fill="#e8c400" stroke="#6e5a00" stroke-width="0.55"/>
<rect x="303.20" y="271.30" width="3.80" height="3.80" fill="#e8c400" stroke="#6e5a00" stroke-width="0.55"/>
<rect x="307.60" y="268.60" width="3.80" height="3.80" fill="#e6e600" stroke="#6e6e00" stroke-width="0.55"/>
<rect x="310.10" y="268.60" width="3.80" height="3.80" fill="#e6e600" stroke="#6e6e00" stroke-width="0.55"/>
<rect x="307.60" y="272.05" width="3.80" height="3.80" fill="#e6e600" stroke="#6e6e00" stroke-width="0.55"/>
<rect x="310.10" y="272.05" width="3.80" height="3.80" fill="#e6e600" stroke="#6e6e00" stroke-width="0.55"/>
<rect x="308.28" y="270.28" width="3.80" height="3.80" fill="#e6e600" stroke="#6e6e00" stroke-width="0.55"/>
<rect x="307.80" y="269.77" width="3.80" height="3.80" fill="#e6e600" stroke="#6e6e00" stroke-width="0.55"/>
<rect x="308.80" y="274.05" width="3.80" height="3.80" fill="#e6e600" stroke="#6e6e00" stroke-width="0.55"/>
<rect x="314.00" y="274.05" width="3.80" height="3.80" fill="#e6e600" stroke="#6e6e00" stroke-width="0.55"/>
<rect x="308.80" y="277.50" width="3.80" height="3.80" fill="#e6e600" stroke="#6e6e00" stroke-width="0.55"/>
<rect x="314.00" y="277.50" width="3.80" height="3.80" fill="#e6e600" stroke="#6e6e00" stroke-width="0.55"/>
<rect x="309.18" y="274.09" width="3.80" height="3.80" fill="#e6e600" stroke="#6e6e00" stroke-width="0.55"/>
<rect x="310.28" y="274.46" width="3.80" height="3.80" fill="#e6e600" stroke="#6e6e00" stroke-width="0.55"/>
<rect x="310.42" y="276.61" width="3.80" height="3.80" fill="#e6e600" stroke="#6e6e00" stroke-width="0.55"/>
<text x="282.86" y="211.95" font-size="7.30" textLength="37.80" lengthAdjust="spacingAndGlyphs" stroke="#000" stroke-width="0.04">M SER 129</text>
<text x="342.76" y="205.70" font-size="5.60" textLength="20.52" lengthAdjust="spacingAndGlyphs" stroke="#000" stroke-width="0.06"><tspan font-style="italic">cv</tspan> 0.014</text>
<text x="342.73" y="212.60" font-size="5.60" textLength="20.68" lengthAdjust="spacingAndGlyphs" stroke="#000" stroke-width="0.06">Gf 0.81</text>
<circle cx="368.00" cy="203.65" r="2.7" fill="#fff" stroke="#000" stroke-width="0.65" stroke-dasharray="1.5 0.35"/>
<path d="M368.20 200.95 L368.20 203.75 L367.10 203.75" fill="none" stroke="#000" stroke-width="0.7"/>
<polygon points="376.00,200.25 376.88,201.43 378.33,201.22 378.12,202.67 379.30,203.55 378.12,204.43 378.33,205.88 376.88,205.67 376.00,206.85 375.12,205.67 373.67,205.88 373.88,204.43 372.70,203.55 373.88,202.67 373.67,201.22 375.12,201.43" fill="#000"/>
<polygon points="379.30,203.55 378.12,204.43 378.33,205.88 376.88,205.67 376.00,206.85 375.12,205.67 373.67,205.88 373.88,204.43 372.70,203.55" fill="#3c3c00"/>
<path d="M374.00 203.75 A2.0 2.0 0 0 0 378.00 203.75 Z" fill="#e8e800"/>
<circle cx="376.00" cy="203.25" r="1.25" fill="#000"/>
<rect x="366.20" y="209.30" width="3.7" height="3.6" fill="#f0f000" stroke="#7a7a20" stroke-width="0.5"/>
<path d="M382.5 215.5 L382.5 223.5 M382.5 223.5 L385.5 223.5 M385.5 223.5 L385.5 231.5 M385.5 231.5 L388.5 231.5 M388.5 231.5 L388.5 234.5 M388.5 234.5 L391.5 234.5 M391.5 234.5 L391.5 237.5 M391.5 237.5 L393.5 237.5 M393.5 237.5 L393.5 240.5 M393.5 240.5 L396.5 240.5 M396.5 240.5 L396.5 237.5 M396.5 237.5 L402.5 237.5 M402.5 237.5 L402.5 240.5 M402.5 240.5 L405.5 240.5 M405.5 240.5 L405.5 237.5 M405.5 237.5 L410.5 237.5 M410.5 237.5 L410.5 234.5 M410.5 234.5 L413.5 234.5 M413.5 234.5 L413.5 231.5 M413.5 231.5 L416.5 231.5 M416.5 231.5 L416.5 223.5 M416.5 223.5 L413.5 223.5 M413.5 223.5 L413.5 218.5 M413.5 218.5 L410.5 218.5 M410.5 218.5 L410.5 215.5 M399.5 256.5 L402.5 256.5 M402.5 256.5 L402.5 259.5 M402.5 259.5 L407.5 259.5 M407.5 259.5 L407.5 262.5 M407.5 262.5 L410.5 262.5 M410.5 262.5 L410.5 265.5 M410.5 265.5 L413.5 265.5 M413.5 265.5 L413.5 267.5 M413.5 267.5 L416.5 267.5 M416.5 267.5 L416.5 270.5 M416.5 270.5 L418.5 270.5 M418.5 270.5 L418.5 276.5 M418.5 276.5 L421.5 276.5 M421.5 276.5 L421.5 284.5 M421.5 284.5 L410.5 284.5 M410.5 284.5 L410.5 281.5 M410.5 281.5 L405.5 281.5 M405.5 281.5 L405.5 278.5 M405.5 278.5 L402.5 278.5 M402.5 278.5 L402.5 276.5 M402.5 276.5 L399.5 276.5 M399.5 276.5 L399.5 273.5 M399.5 273.5 L396.5 273.5 M396.5 273.5 L396.5 267.5 M396.5 267.5 L393.5 267.5 M393.5 267.5 L393.5 265.5 M393.5 265.5 L396.5 265.5 M396.5 265.5 L396.5 259.5 M396.5 259.5 L399.5 259.5 M399.5 259.5 L399.5 256.5 M443.5 251.5 L446.5 251.5 M446.5 251.5 L446.5 253.5 M446.5 253.5 L449.5 253.5 M449.5 253.5 L449.5 256.5 M449.5 256.5 L443.5 256.5 M443.5 256.5 L443.5 251.5" fill="none" stroke="#a6a672" stroke-width="1" stroke-dasharray="2 1" shape-rendering="crispEdges"/>
<rect x="418" y="226" width="1" height="1" fill="#6a6a40"/>
<rect x="418" y="228" width="1" height="1" fill="#6a6a40"/>
<rect x="395.50" y="263.50" width="3.80" height="3.80" fill="#cccc00" stroke="#5c5800" stroke-width="0.55"/>
<rect x="396.70" y="263.50" width="3.80" height="3.80" fill="#cccc00" stroke="#5c5800" stroke-width="0.55"/>
<rect x="408.00" y="272.30" width="3.80" height="3.80" fill="#cccc00" stroke="#5c5800" stroke-width="0.55"/>
<rect x="414.40" y="272.30" width="3.80" height="3.80" fill="#cccc00" stroke="#5c5800" stroke-width="0.55"/>
<rect x="408.00" y="274.55" width="3.80" height="3.80" fill="#cccc00" stroke="#5c5800" stroke-width="0.55"/>
<rect x="414.40" y="274.55" width="3.80" height="3.80" fill="#cccc00" stroke="#5c5800" stroke-width="0.55"/>
<rect x="412.64" y="273.39" width="3.80" height="3.80" fill="#cccc00" stroke="#5c5800" stroke-width="0.55"/>
<rect x="414.03" y="273.22" width="3.80" height="3.80" fill="#cccc00" stroke="#5c5800" stroke-width="0.55"/>
<rect x="404.30" y="274.55" width="3.80" height="3.80" fill="#e6e600" stroke="#6e6e00" stroke-width="0.55"/>
<rect x="408.50" y="274.55" width="3.80" height="3.80" fill="#e6e600" stroke="#6e6e00" stroke-width="0.55"/>
<rect x="404.30" y="276.50" width="3.80" height="3.80" fill="#e6e600" stroke="#6e6e00" stroke-width="0.55"/>
<rect x="408.50" y="276.50" width="3.80" height="3.80" fill="#e6e600" stroke="#6e6e00" stroke-width="0.55"/>
<rect x="408.16" y="274.86" width="3.80" height="3.80" fill="#e6e600" stroke="#6e6e00" stroke-width="0.55"/>
<rect x="408.48" y="275.36" width="3.80" height="3.80" fill="#e6e600" stroke="#6e6e00" stroke-width="0.55"/>
<rect x="402.10" y="276.20" width="3.80" height="3.80" fill="#e07818" stroke="#7a3800" stroke-width="0.55"/>
<rect x="402.60" y="276.20" width="3.80" height="3.80" fill="#e07818" stroke="#7a3800" stroke-width="0.55"/>
<rect x="402.10" y="277.50" width="3.80" height="3.80" fill="#e07818" stroke="#7a3800" stroke-width="0.55"/>
<rect x="402.60" y="277.50" width="3.80" height="3.80" fill="#e07818" stroke="#7a3800" stroke-width="0.55"/>
<text x="382.86" y="211.95" font-size="7.30" textLength="38.98" lengthAdjust="spacingAndGlyphs" stroke="#000" stroke-width="0.04">M THR 130</text>
<text x="442.76" y="205.70" font-size="5.60" textLength="20.67" lengthAdjust="spacingAndGlyphs" stroke="#000" stroke-width="0.06"><tspan font-style="italic">cv</tspan> 0.019</text>
<text x="442.73" y="212.60" font-size="5.60" textLength="20.54" lengthAdjust="spacingAndGlyphs" stroke="#000" stroke-width="0.06">Gf 0.69</text>
<circle cx="468.00" cy="203.65" r="2.7" fill="#fff" stroke="#000" stroke-width="0.65" stroke-dasharray="1.5 0.35"/>
<path d="M468.20 200.95 L468.20 203.75 L467.10 203.75" fill="none" stroke="#000" stroke-width="0.7"/>
<polygon points="476.00,200.25 476.88,201.43 478.33,201.22 478.12,202.67 479.30,203.55 478.12,204.43 478.33,205.88 476.88,205.67 476.00,206.85 475.12,205.67 473.67,205.88 473.88,204.43 472.70,203.55 473.88,202.67 473.67,201.22 475.12,201.43" fill="#000"/>
<polygon points="479.30,203.55 478.12,204.43 478.33,205.88 476.88,205.67 476.00,206.85 475.12,205.67 473.67,205.88 473.88,204.43 472.70,203.55" fill="#3c3c00"/>
<path d="M474.00 203.75 A2.0 2.0 0 0 0 478.00 203.75 Z" fill="#e8e800"/>
<circle cx="476.00" cy="203.25" r="1.25" fill="#000"/>
<rect x="466.20" y="209.30" width="3.7" height="3.6" fill="#f0f000" stroke="#7a7a20" stroke-width="0.5"/>
<path d="M82.5 333.5 L82.5 341.5 M82.5 341.5 L85.5 341.5 M85.5 341.5 L85.5 349.5 M85.5 349.5 L88.5 349.5 M88.5 349.5 L88.5 352.5 M88.5 352.5 L91.5 352.5 M91.5 352.5 L91.5 355.5 M91.5 355.5 L93.5 355.5 M93.5 355.5 L93.5 358.5 M93.5 358.5 L96.5 358.5 M96.5 358.5 L96.5 355.5 M96.5 355.5 L102.5 355.5 M102.5 355.5 L102.5 358.5 M102.5 358.5 L105.5 358.5 M105.5 358.5 L105.5 355.5 M105.5 355.5 L110.5 355.5 M110.5 355.5 L110.5 352.5 M110.5 352.5 L113.5 352.5 M113.5 352.5 L113.5 349.5 M113.5 349.5 L116.5 349.5 M116.5 349.5 L116.5 341.5 M116.5 341.5 L113.5 341.5 M113.5 341.5 L113.5 336.5 M113.5 336.5 L110.5 336.5 M110.5 336.5 L110.5 333.5 M99.5 374.5 L102.5 374.5 M102.5 374.5 L102.5 377.5 M102.5 377.5 L107.5 377.5 M107.5 377.5 L107.5 380.5 M107.5 380.5 L110.5 380.5 M110.5 380.5 L110.5 383.5 M110.5 383.5 L113.5 383.5 M113.5 383.5 L113.5 385.5 M113.5 385.5 L116.5 385.5 M116.5 385.5 L116.5 388.5 M116.5 388.5 L118.5 388.5 M118.5 388.5 L118.5 394.5 M118.5 394.5 L121.5 394.5 M121.5 394.5 L121.5 402.5 M121.5 402.5 L110.5 402.5 M110.5 402.5 L110.5 399.5 M110.5 399.5 L105.5 399.5 M105.5 399.5 L105.5 396.5 M105.5 396.5 L102.5 396.5 M102.5 396.5 L102.5 394.5 M102.5 394.5 L99.5 394.5 M99.5 394.5 L99.5 391.5 M99.5 391.5 L96.5 391.5 M96.5 391.5 L96.5 385.5 M96.5 385.5 L93.5 385.5 M93.5 385.5 L93.5 383.5 M93.5 383.5 L96.5 383.5 M96.5 383.5 L96.5 377.5 M96.5 377.5 L99.5 377.5 M99.5 377.5 L99.5 374.5 M143.5 369.5 L146.5 369.5 M146.5 369.5 L146.5 371.5 M146.5 371.5 L149.5 371.5 M149.5 371.5 L149.5 374.5 M149.5 374.5 L143.5 374.5 M143.5 374.5 L143.5 369.5" fill="none" stroke="#a6a672" stroke-width="1" stroke-dasharray="2 1" shape-rendering="crispEdges"/>
<rect x="118" y="344" width="1" height="1" fill="#6a6a40"/>
<rect x="118" y="346" width="1" height="1" fill="#6a6a40"/>
<rect x="107.40" y="385.20" width="3.80" height="3.80" fill="#e6e600" stroke="#6e6e00" stroke-width="0.55"/>
<rect x="108.10" y="385.20" width="3.80" height="3.80" fill="#e6e600" stroke="#6e6e00" stroke-width="0.55"/>
<rect x="107.40" y="392.15" width="3.80" height="3.80" fill="#e6e600" stroke="#6e6e00" stroke-width="0.55"/>
<rect x="108.10" y="392.15" width="3.80" height="3.80" fill="#e6e600" stroke="#6e6e00" stroke-width="0.55"/>
<rect x="107.56" y="391.68" width="3.80" height="3.80" fill="#e6e600" stroke="#6e6e00" stroke-width="0.55"/>
<rect x="110.60" y="387.40" width="3.80" height="3.80" fill="#e6e600" stroke="#6e6e00" stroke-width="0.55"/>
<rect x="112.80" y="387.40" width="3.80" height="3.80" fill="#e6e600" stroke="#6e6e00" stroke-width="0.55"/>
<rect x="110.60" y="393.50" width="3.80" height="3.80" fill="#e6e600" stroke="#6e6e00" stroke-width="0.55"/>
<rect x="112.80" y="393.50" width="3.80" height="3.80" fill="#e6e600" stroke="#6e6e00" stroke-width="0.55"/>
<rect x="112.46" y="391.76" width="3.80" height="3.80" fill="#e6e600" stroke="#6e6e00" stroke-width="0.55"/>
<rect x="112.10" y="387.46" width="3.80" height="3.80" fill="#e6e600" stroke="#6e6e00" stroke-width="0.55"/>
<rect x="112.42" y="389.71" width="3.80" height="3.80" fill="#e6e600" stroke="#6e6e00" stroke-width="0.55"/>
<text x="82.86" y="329.95" font-size="7.30" textLength="38.68" lengthAdjust="spacingAndGlyphs" stroke="#000" stroke-width="0.04">M LEU 131</text>
<text x="142.76" y="323.70" font-size="5.60" textLength="20.52" lengthAdjust="spacingAndGlyphs" stroke="#000" stroke-width="0.06"><tspan font-style="italic">cv</tspan> 0.004</text>
<text x="142.73" y="330.60" font-size="5.60" textLength="20.64" lengthAdjust="spacingAndGlyphs" stroke="#000" stroke-width="0.06">Gf 0.72</text>
<circle cx="168.00" cy="321.65" r="2.7" fill="#fff" stroke="#000" stroke-width="0.65" stroke-dasharray="1.5 0.35"/>
<path d="M168.20 318.95 L168.20 321.75 L167.10 321.75" fill="none" stroke="#000" stroke-width="0.7"/>
<polygon points="176.00,318.25 176.88,319.43 178.33,319.22 178.12,320.67 179.30,321.55 178.12,322.43 178.33,323.88 176.88,323.67 176.00,324.85 175.12,323.67 173.67,323.88 173.88,322.43 172.70,321.55 173.88,320.67 173.67,319.22 175.12,319.43" fill="#000"/>
<polygon points="179.30,321.55 178.12,322.43 178.33,323.88 176.88,323.67 176.00,324.85 175.12,323.67 173.67,323.88 173.88,322.43 172.70,321.55" fill="#3c3c00"/>
<path d="M174.00 321.75 A2.0 2.0 0 0 0 178.00 321.75 Z" fill="#e8e800"/>
<circle cx="176.00" cy="321.25" r="1.25" fill="#000"/>
<rect x="166.20" y="327.30" width="3.7" height="3.6" fill="#f0f000" stroke="#7a7a20" stroke-width="0.5"/>
<path d="M182.5 333.5 L182.5 341.5 M182.5 341.5 L185.5 341.5 M185.5 341.5 L185.5 349.5 M185.5 349.5 L188.5 349.5 M188.5 349.5 L188.5 352.5 M188.5 352.5 L191.5 352.5 M191.5 352.5 L191.5 355.5 M191.5 355.5 L193.5 355.5 M193.5 355.5 L193.5 358.5 M193.5 358.5 L196.5 358.5 M196.5 358.5 L196.5 355.5 M196.5 355.5 L202.5 355.5 M202.5 355.5 L202.5 358.5 M202.5 358.5 L205.5 358.5 M205.5 358.5 L205.5 355.5 M205.5 355.5 L210.5 355.5 M210.5 355.5 L210.5 352.5 M210.5 352.5 L213.5 352.5 M213.5 352.5 L213.5 349.5 M213.5 349.5 L216.5 349.5 M216.5 349.5 L216.5 341.5 M216.5 341.5 L213.5 341.5 M213.5 341.5 L213.5 336.5 M213.5 336.5 L210.5 336.5 M210.5 336.5 L210.5 333.5 M199.5 374.5 L202.5 374.5 M202.5 374.5 L202.5 377.5 M202.5 377.5 L207.5 377.5 M207.5 377.5 L207.5 380.5 M207.5 380.5 L210.5 380.5 M210.5 380.5 L210.5 383.5 M210.5 383.5 L213.5 383.5 M213.5 383.5 L213.5 385.5 M213.5 385.5 L216.5 385.5 M216.5 385.5 L216.5 388.5 M216.5 388.5 L218.5 388.5 M218.5 388.5 L218.5 394.5 M218.5 394.5 L221.5 394.5 M221.5 394.5 L221.5 402.5 M221.5 402.5 L210.5 402.5 M210.5 402.5 L210.5 399.5 M210.5 399.5 L205.5 399.5 M205.5 399.5 L205.5 396.5 M205.5 396.5 L202.5 396.5 M202.5 396.5 L202.5 394.5 M202.5 394.5 L199.5 394.5 M199.5 394.5 L199.5 391.5 M199.5 391.5 L196.5 391.5 M196.5 391.5 L196.5 385.5 M196.5 385.5 L193.5 385.5 M193.5 385.5 L193.5 383.5 M193.5 383.5 L196.5 383.5 M196.5 383.5 L196.5 377.5 M196.5 377.5 L199.5 377.5 M199.5 377.5 L199.5 374.5 M243.5 369.5 L246.5 369.5 M246.5 369.5 L246.5 371.5 M246.5 371.5 L249.5 371.5 M249.5 371.5 L249.5 374.5 M249.5 374.5 L243.5 374.5 M243.5 374.5 L243.5 369.5" fill="none" stroke="#a6a672" stroke-width="1" stroke-dasharray="2 1" shape-rendering="crispEdges"/>
<rect x="218" y="344" width="1" height="1" fill="#6a6a40"/>
<rect x="218" y="346" width="1" height="1" fill="#6a6a40"/>
<rect x="196.50" y="377.55" width="3.80" height="3.80" fill="#dc4a10" stroke="#6a2000" stroke-width="0.55"/>
<rect x="198.90" y="377.55" width="3.80" height="3.80" fill="#dc4a10" stroke="#6a2000" stroke-width="0.55"/>
<rect x="196.50" y="379.45" width="3.80" height="3.80" fill="#dc4a10" stroke="#6a2000" stroke-width="0.55"/>
<rect x="198.90" y="379.45" width="3.80" height="3.80" fill="#dc4a10" stroke="#6a2000" stroke-width="0.55"/>
<rect x="196.67" y="378.38" width="3.80" height="3.80" fill="#dc4a10" stroke="#6a2000" stroke-width="0.55"/>
<rect x="202.30" y="379.35" width="3.80" height="3.80" fill="#dc4a10" stroke="#6a2000" stroke-width="0.55"/>
<rect x="205.30" y="379.35" width="3.80" height="3.80" fill="#dc4a10" stroke="#6a2000" stroke-width="0.55"/>
<rect x="202.30" y="380.45" width="3.80" height="3.80" fill="#dc4a10" stroke="#6a2000" stroke-width="0.55"/>
<rect x="205.30" y="380.45" width="3.80" height="3.80" fill="#dc4a10" stroke="#6a2000" stroke-width="0.55"/>
<rect x="203.04" y="379.84" width="3.80" height="3.80" fill="#dc4a10" stroke="#6a2000" stroke-width="0.55"/>
<rect x="196.30" y="382.85" width="3.80" height="3.80" fill="#e07818" stroke="#7a3800" stroke-width="0.55"/>
<rect x="199.90" y="382.85" width="3.80" height="3.80" fill="#e07818" stroke="#7a3800" stroke-width="0.55"/>
<rect x="196.30" y="385.35" width="3.80" height="3.80" fill="#e07818" stroke="#7a3800" stroke-width="0.55"/>
<rect x="199.90" y="385.35" width="3.80" height="3.80" fill="#e07818" stroke="#7a3800" stroke-width="0.55"/>
<rect x="197.22" y="385.00" width="3.80" height="3.80" fill="#e07818" stroke="#7a3800" stroke-width="0.55"/>
<rect x="198.32" y="384.71" width="3.80" height="3.80" fill="#e07818" stroke="#7a3800" stroke-width="0.55"/>
<rect x="208.70" y="383.35" width="3.40" height="3.40" fill="#b04800" stroke="#502000" stroke-width="0.55"/>
<rect x="210.10" y="383.35" width="3.40" height="3.40" fill="#b04800" stroke="#502000" stroke-width="0.55"/>
<rect x="207.80" y="386.85" width="3.80" height="3.80" fill="#e6e600" stroke="#6e6e00" stroke-width="0.55"/>
<rect x="210.20" y="386.85" width="3.80" height="3.80" fill="#e6e600" stroke="#6e6e00" stroke-width="0.55"/>
<rect x="207.80" y="394.15" width="3.80" height="3.80" fill="#e6e600" stroke="#6e6e00" stroke-width="0.55"/>
<rect x="210.20" y="394.15" width="3.80" height="3.80" fill="#e6e600" stroke="#6e6e00" stroke-width="0.55"/>
<rect x="210.02" y="390.46" width="3.80" height="3.80" fill="#e6e600" stroke="#6e6e00" stroke-width="0.55"/>
<rect x="208.92" y="387.78" width="3.80" height="3.80" fill="#e6e600" stroke="#6e6e00" stroke-width="0.55"/>
<rect x="209.68" y="387.36" width="3.80" height="3.80" fill="#e6e600" stroke="#6e6e00" stroke-width="0.55"/>
<rect x="203.30" y="391.75" width="3.80" height="3.80" fill="#dc4a10" stroke="#6a2000" stroke-width="0.55"/>
<rect x="205.30" y="391.75" width="3.80" height="3.80" fill="#dc4a10" stroke="#6a2000" stroke-width="0.55"/>
<rect x="203.30" y="396.15" width="3.80" height="3.80" fill="#dc4a10" stroke="#6a2000" stroke-width="0.55"/>
<rect x="205.30" y="396.15" width="3.80" height="3.80" fill="#dc4a10" stroke="#6a2000" stroke-width="0.55"/>
<rect x="204.76" y="393.76" width="3.80" height="3.80" fill="#dc4a10" stroke="#6a2000" stroke-width="0.55"/>
<rect x="204.31" y="394.07" width="3.80" height="3.80" fill="#dc4a10" stroke="#6a2000" stroke-width="0.55"/>
<text x="182.86" y="329.95" font-size="7.30" textLength="38.09" lengthAdjust="spacingAndGlyphs" stroke="#000" stroke-width="0.04">M VAL 132</text>
<text x="242.76" y="323.70" font-size="5.60" textLength="20.67" lengthAdjust="spacingAndGlyphs" stroke="#000" stroke-width="0.06"><tspan font-style="italic">cv</tspan> 0.043</text>
<text x="242.76" y="330.60" font-size="5.60" textLength="20.32" lengthAdjust="spacingAndGlyphs" stroke="#000" stroke-width="0.06">Gf -1.04</text>
<circle cx="268.00" cy="321.65" r="2.7" fill="#fff" stroke="#000" stroke-width="0.65" stroke-dasharray="1.5 0.35"/>
<path d="M268.00 321.85 L268.00 319.05 A2.6 2.6 0 0 1 268.69 319.14 Z" fill="#111"/>
<path d="M268.20 318.95 L268.20 321.75 L267.10 321.75" fill="none" stroke="#000" stroke-width="0.7"/>
<polygon points="276.00,318.25 276.88,319.43 278.33,319.22 278.12,320.67 279.30,321.55 278.12,322.43 278.33,323.88 276.88,323.67 276.00,324.85 275.12,323.67 273.67,323.88 273.88,322.43 272.70,321.55 273.88,320.67 273.67,319.22 275.12,319.43" fill="#000"/>
<polygon points="279.30,321.55 278.12,322.43 278.33,323.88 276.88,323.67 276.00,324.85 275.12,323.67 273.67,323.88 273.88,322.43 272.70,321.55" fill="#3c3c00"/>
<path d="M274.00 321.75 A2.0 2.0 0 0 0 278.00 321.75 Z" fill="#e8e800"/>
<circle cx="276.00" cy="321.25" r="1.25" fill="#000"/>
<rect x="266.20" y="327.30" width="3.7" height="3.6" fill="#e89000" stroke="#7a7a20" stroke-width="0.5"/>
<path d="M282.5 333.5 L282.5 341.5 M282.5 341.5 L285.5 341.5 M285.5 341.5 L285.5 349.5 M285.5 349.5 L288.5 349.5 M288.5 349.5 L288.5 352.5 M288.5 352.5 L291.5 352.5 M291.5 352.5 L291.5 355.5 M291.5 355.5 L293.5 355.5 M293.5 355.5 L293.5 358.5 M293.5 358.5 L296.5 358.5 M296.5 358.5 L296.5 355.5 M296.5 355.5 L302.5 355.5 M302.5 355.5 L302.5 358.5 M302.5 358.5 L305.5 358.5 M305.5 358.5 L305.5 355.5 M305.5 355.5 L310.5 355.5 M310.5 355.5 L310.5 352.5 M310.5 352.5 L313.5 352.5 M313.5 352.5 L313.5 349.5 M313.5 349.5 L316.5 349.5 M316.5 349.5 L316.5 341.5 M316.5 341.5 L313.5 341.5 M313.5 341.5 L313.5 336.5 M313.5 336.5 L310.5 336.5 M310.5 336.5 L310.5 333.5 M299.5 374.5 L302.5 374.5 M302.5 374.5 L302.5 377.5 M302.5 377.5 L307.5 377.5 M307.5 377.5 L307.5 380.5 M307.5 380.5 L310.5 380.5 M310.5 380.5 L310.5 383.5 M310.5 383.5 L313.5 383.5 M313.5 383.5 L313.5 385.5 M313.5 385.5 L316.5 385.5 M316.5 385.5 L316.5 388.5 M316.5 388.5 L318.5 388.5 M318.5 388.5 L318.5 394.5 M318.5 394.5 L321.5 394.5 M321.5 394.5 L321.5 402.5 M321.5 402.5 L310.5 402.5 M310.5 402.5 L310.5 399.5 M310.5 399.5 L305.5 399.5 M305.5 399.5 L305.5 396.5 M305.5 396.5 L302.5 396.5 M302.5 396.5 L302.5 394.5 M302.5 394.5 L299.5 394.5 M299.5 394.5 L299.5 391.5 M299.5 391.5 L296.5 391.5 M296.5 391.5 L296.5 385.5 M296.5 385.5 L293.5 385.5 M293.5 385.5 L293.5 383.5 M293.5 383.5 L296.5 383.5 M296.5 383.5 L296.5 377.5 M296.5 377.5 L299.5 377.5 M299.5 377.5 L299.5 374.5 M343.5 369.5 L346.5 369.5 M346.5 369.5 L346.5 371.5 M346.5 371.5 L349.5 371.5 M349.5 371.5 L349.5 374.5 M349.5 374.5 L343.5 374.5 M343.5 374.5 L343.5 369.5" fill="none" stroke="#a6a672" stroke-width="1" stroke-dasharray="2 1" shape-rendering="crispEdges"/>
<rect x="318" y="344" width="1" height="1" fill="#6a6a40"/>
<rect x="318" y="346" width="1" height="1" fill="#6a6a40"/>
<rect x="279.30" y="387.30" width="3.80" height="3.80" fill="#d41008" stroke="#6a0000" stroke-width="0.55"/>
<rect x="279.90" y="387.30" width="3.80" height="3.80" fill="#d41008" stroke="#6a0000" stroke-width="0.55"/>
<rect x="279.30" y="388.50" width="3.80" height="3.80" fill="#d41008" stroke="#6a0000" stroke-width="0.55"/>
<rect x="279.90" y="388.50" width="3.80" height="3.80" fill="#d41008" stroke="#6a0000" stroke-width="0.55"/>
<rect x="298.70" y="387.70" width="3.20" height="3.20" fill="#e8c400" stroke="#6e5a00" stroke-width="0.55"/>
<rect x="298.70" y="388.40" width="3.20" height="3.20" fill="#e8c400" stroke="#6e5a00" stroke-width="0.55"/>
<rect x="303.30" y="386.40" width="3.80" height="3.80" fill="#e6e600" stroke="#6e6e00" stroke-width="0.55"/>
<rect x="306.60" y="386.40" width="3.80" height="3.80" fill="#e6e600" stroke="#6e6e00" stroke-width="0.55"/>
<rect x="303.30" y="388.80" width="3.80" height="3.80" fill="#e6e600" stroke="#6e6e00" stroke-width="0.55"/>
<rect x="306.60" y="388.80" width="3.80" height="3.80" fill="#e6e600" stroke="#6e6e00" stroke-width="0.55"/>
<rect x="304.22" y="387.61" width="3.80" height="3.80" fill="#e6e600" stroke="#6e6e00" stroke-width="0.55"/>
<rect x="305.16" y="387.51" width="3.80" height="3.80" fill="#e6e600" stroke="#6e6e00" stroke-width="0.55"/>
<rect x="294.60" y="395.30" width="3.80" height="3.80" fill="#d41008" stroke="#6a0000" stroke-width="0.55"/>
<rect x="295.80" y="395.30" width="3.80" height="3.80" fill="#d41008" stroke="#6a0000" stroke-width="0.55"/>
<rect x="294.60" y="396.10" width="3.80" height="3.80" fill="#d41008" stroke="#6a0000" stroke-width="0.55"/>
<rect x="295.80" y="396.10" width="3.80" height="3.80" fill="#d41008" stroke="#6a0000" stroke-width="0.55"/>
<rect x="300.80" y="394.50" width="3.80" height="3.80" fill="#cc5a10" stroke="#6a2800" stroke-width="0.55"/>
<rect x="301.50" y="394.50" width="3.80" height="3.80" fill="#cc5a10" stroke="#6a2800" stroke-width="0.55"/>
<rect x="300.80" y="395.60" width="3.80" height="3.80" fill="#cc5a10" stroke="#6a2800" stroke-width="0.55"/>
<rect x="301.50" y="395.60" width="3.80" height="3.80" fill="#cc5a10" stroke="#6a2800" stroke-width="0.55"/>
<rect x="306.30" y="392.80" width="3.80" height="3.80" fill="#e6e600" stroke="#6e6e00" stroke-width="0.55"/>
<rect x="311.70" y="392.80" width="3.80" height="3.80" fill="#e6e600" stroke="#6e6e00" stroke-width="0.55"/>
<rect x="306.30" y="397.80" width="3.80" height="3.80" fill="#e6e600" stroke="#6e6e00" stroke-width="0.55"/>
<rect x="311.70" y="397.80" width="3.80" height="3.80" fill="#e6e600" stroke="#6e6e00" stroke-width="0.55"/>
<rect x="309.47" y="395.24" width="3.80" height="3.80" fill="#e6e600" stroke="#6e6e00" stroke-width="0.55"/>
<rect x="309.10" y="393.81" width="3.80" height="3.80" fill="#e6e600" stroke="#6e6e00" stroke-width="0.55"/>
<rect x="306.90" y="394.08" width="3.80" height="3.80" fill="#e6e600" stroke="#6e6e00" stroke-width="0.55"/>
<rect x="310.51" y="392.93" width="3.80" height="3.80" fill="#e6e600" stroke="#6e6e00" stroke-width="0.55"/>
<rect x="308.20" y="394.91" width="3.80" height="3.80" fill="#e6e600" stroke="#6e6e00" stroke-width="0.55"/>
<text x="282.86" y="329.95" font-size="7.30" textLength="38.98" lengthAdjust="spacingAndGlyphs" stroke="#000" stroke-width="0.04">M THR 137</text>
<text x="342.76" y="323.70" font-size="5.60" textLength="20.61" lengthAdjust="spacingAndGlyphs" stroke="#000" stroke-width="0.06"><tspan font-style="italic">cv</tspan> 0.057</text>
<text x="342.76" y="330.60" font-size="5.60" textLength="20.41" lengthAdjust="spacingAndGlyphs" stroke="#000" stroke-width="0.06">Gf -0.27</text>
<circle cx="368.00" cy="321.65" r="2.7" fill="#fff" stroke="#000" stroke-width="0.65" stroke-dasharray="1.5 0.35"/>
<path d="M368.00 321.85 L368.00 319.05 A2.6 2.6 0 0 1 368.91 319.21 Z" fill="#111"/>
<path d="M368.20 318.95 L368.20 321.75 L367.10 321.75" fill="none" stroke="#000" stroke-width="0.7"/>
<polygon points="376.00,318.25 376.88,319.43 378.33,319.22 378.12,320.67 379.30,321.55 378.12,322.43 378.33,323.88 376.88,323.67 376.00,324.85 375.12,323.67 373.67,323.88 373.88,322.43 372.70,321.55 373.88,320.67 373.67,319.22 375.12,319.43" fill="#000"/>
<path d="M373.80 323.15 A2.6 2.6 0 0 0 378.20 323.15" fill="none" stroke="#4a4a10" stroke-width="0.6"/>
<rect x="366.20" y="327.30" width="3.7" height="3.6" fill="#f0d800" stroke="#7a7a20" stroke-width="0.5"/>
<path d="M382.5 333.5 L382.5 341.5 M382.5 341.5 L385.5 341.5 M385.5 341.5 L385.5 349.5 M385.5 349.5 L388.5 349.5 M388.5 349.5 L388.5 352.5 M388.5 352.5 L391.5 352.5 M391.5 352.5 L391.5 355.5 M391.5 355.5 L393.5 355.5 M393.5 355.5 L393.5 358.5 M393.5 358.5 L396.5 358.5 M396.5 358.5 L396.5 355.5 M396.5 355.5 L402.5 355.5 M402.5 355.5 L402.5 358.5 M402.5 358.5 L405.5 358.5 M405.5 358.5 L405.5 355.5 M405.5 355.5 L410.5 355.5 M410.5 355.5 L410.5 352.5 M410.5 352.5 L413.5 352.5 M413.5 352.5 L413.5 349.5 M413.5 349.5 L416.5 349.5 M416.5 349.5 L416.5 341.5 M416.5 341.5 L413.5 341.5 M413.5 341.5 L413.5 336.5 M413.5 336.5 L410.5 336.5 M410.5 336.5 L410.5 333.5 M399.5 374.5 L402.5 374.5 M402.5 374.5 L402.5 377.5 M402.5 377.5 L407.5 377.5 M407.5 377.5 L407.5 380.5 M407.5 380.5 L410.5 380.5 M410.5 380.5 L410.5 383.5 M410.5 383.5 L413.5 383.5 M413.5 383.5 L413.5 385.5 M413.5 385.5 L416.5 385.5 M416.5 385.5 L416.5 388.5 M416.5 388.5 L418.5 388.5 M418.5 388.5 L418.5 394.5 M418.5 394.5 L421.5 394.5 M421.5 394.5 L421.5 402.5 M421.5 402.5 L410.5 402.5 M410.5 402.5 L410.5 399.5 M410.5 399.5 L405.5 399.5 M405.5 399.5 L405.5 396.5 M405.5 396.5 L402.5 396.5 M402.5 396.5 L402.5 394.5 M402.5 394.5 L399.5 394.5 M399.5 394.5 L399.5 391.5 M399.5 391.5 L396.5 391.5 M396.5 391.5 L396.5 385.5 M396.5 385.5 L393.5 385.5 M393.5 385.5 L393.5 383.5 M393.5 383.5 L396.5 383.5 M396.5 383.5 L396.5 377.5 M396.5 377.5 L399.5 377.5 M399.5 377.5 L399.5 374.5 M443.5 369.5 L446.5 369.5 M446.5 369.5 L446.5 371.5 M446.5 371.5 L449.5 371.5 M449.5 371.5 L449.5 374.5 M449.5 374.5 L443.5 374.5 M443.5 374.5 L443.5 369.5" fill="none" stroke="#a6a672" stroke-width="1" stroke-dasharray="2 1" shape-rendering="crispEdges"/>
<rect x="418" y="344" width="1" height="1" fill="#6a6a40"/>
<rect x="418" y="346" width="1" height="1" fill="#6a6a40"/>
<rect x="381.70" y="338.20" width="3.25" height="3.25" fill="#e07818" stroke="#7a3800" stroke-width="0.55"/>
<rect x="382.25" y="338.20" width="3.25" height="3.25" fill="#e07818" stroke="#7a3800" stroke-width="0.55"/>
<rect x="381.20" y="341.40" width="3.80" height="3.80" fill="#d41008" stroke="#6a0000" stroke-width="0.55"/>
<rect x="383.50" y="341.40" width="3.80" height="3.80" fill="#d41008" stroke="#6a0000" stroke-width="0.55"/>
<rect x="381.20" y="343.60" width="3.80" height="3.80" fill="#d41008" stroke="#6a0000" stroke-width="0.55"/>
<rect x="383.50" y="343.60" width="3.80" height="3.80" fill="#d41008" stroke="#6a0000" stroke-width="0.55"/>
<rect x="381.82" y="342.59" width="3.80" height="3.80" fill="#d41008" stroke="#6a0000" stroke-width="0.55"/>
<rect x="388.30" y="344.30" width="3.80" height="3.80" fill="#e8c400" stroke="#6e5a00" stroke-width="0.55"/>
<rect x="389.60" y="344.30" width="3.80" height="3.80" fill="#e8c400" stroke="#6e5a00" stroke-width="0.55"/>
<rect x="388.30" y="345.10" width="3.80" height="3.80" fill="#e8c400" stroke="#6e5a00" stroke-width="0.55"/>
<rect x="389.60" y="345.10" width="3.80" height="3.80" fill="#e8c400" stroke="#6e5a00" stroke-width="0.55"/>
<rect x="388.10" y="349.00" width="3.30" height="3.30" fill="#cccc00" stroke="#5c5800" stroke-width="0.55"/>
<rect x="389.10" y="349.00" width="3.30" height="3.30" fill="#cccc00" stroke="#5c5800" stroke-width="0.55"/>
<rect x="390.30" y="351.40" width="3.80" height="3.80" fill="#e07818" stroke="#7a3800" stroke-width="0.55"/>
<rect x="395.70" y="351.40" width="3.80" height="3.80" fill="#e07818" stroke="#7a3800" stroke-width="0.55"/>
<rect x="394.12" y="351.69" width="3.80" height="3.80" fill="#e07818" stroke="#7a3800" stroke-width="0.55"/>
<text x="382.86" y="329.95" font-size="7.30" textLength="37.44" lengthAdjust="spacingAndGlyphs" stroke="#000" stroke-width="0.04">M LYS 138</text>
<text x="442.76" y="323.70" font-size="5.60" textLength="20.67" lengthAdjust="spacingAndGlyphs" stroke="#000" stroke-width="0.06"><tspan font-style="italic">cv</tspan> 0.025</text>
<text x="442.76" y="330.60" font-size="5.60" textLength="20.47" lengthAdjust="spacingAndGlyphs" stroke="#000" stroke-width="0.06">Gf -1.55</text>
<circle cx="468.00" cy="321.65" r="2.7" fill="#fff" stroke="#000" stroke-width="0.65" stroke-dasharray="1.5 0.35"/>
<path d="M468.00 321.85 L468.00 319.05 A2.6 2.6 0 0 1 468.41 319.08 Z" fill="#111"/>
<path d="M468.20 318.95 L468.20 321.75 L467.10 321.75" fill="none" stroke="#000" stroke-width="0.7"/>
<polygon points="476.00,318.25 476.88,319.43 478.33,319.22 478.12,320.67 479.30,321.55 478.12,322.43 478.33,323.88 476.88,323.67 476.00,324.85 475.12,323.67 473.67,323.88 473.88,322.43 472.70,321.55 473.88,320.67 473.67,319.22 475.12,319.43" fill="#000"/>
<path d="M473.80 323.15 A2.6 2.6 0 0 0 478.20 323.15" fill="none" stroke="#4a4a10" stroke-width="0.6"/>
<rect x="466.20" y="327.30" width="3.7" height="3.6" fill="#e06000" stroke="#7a7a20" stroke-width="0.5"/>
<path d="M82.5 451.5 L82.5 459.5 M82.5 459.5 L85.5 459.5 M85.5 459.5 L85.5 467.5 M85.5 467.5 L88.5 467.5 M88.5 467.5 L88.5 470.5 M88.5 470.5 L91.5 470.5 M91.5 470.5 L91.5 473.5 M91.5 473.5 L93.5 473.5 M93.5 473.5 L93.5 476.5 M93.5 476.5 L96.5 476.5 M96.5 476.5 L96.5 473.5 M96.5 473.5 L102.5 473.5 M102.5 473.5 L102.5 476.5 M102.5 476.5 L105.5 476.5 M105.5 476.5 L105.5 473.5 M105.5 473.5 L110.5 473.5 M110.5 473.5 L110.5 470.5 M110.5 470.5 L113.5 470.5 M113.5 470.5 L113.5 467.5 M113.5 467.5 L116.5 467.5 M116.5 467.5 L116.5 459.5 M116.5 459.5 L113.5 459.5 M113.5 459.5 L113.5 454.5 M113.5 454.5 L110.5 454.5 M110.5 454.5 L110.5 451.5 M99.5 492.5 L102.5 492.5 M102.5 492.5 L102.5 495.5 M102.5 495.5 L107.5 495.5 M107.5 495.5 L107.5 498.5 M107.5 498.5 L110.5 498.5 M110.5 498.5 L110.5 501.5 M110.5 501.5 L113.5 501.5 M113.5 501.5 L113.5 503.5 M113.5 503.5 L116.5 503.5 M116.5 503.5 L116.5 506.5 M116.5 506.5 L118.5 506.5 M118.5 506.5 L118.5 512.5 M118.5 512.5 L121.5 512.5 M121.5 512.5 L121.5 520.5 M121.5 520.5 L110.5 520.5 M110.5 520.5 L110.5 517.5 M110.5 517.5 L105.5 517.5 M105.5 517.5 L105.5 514.5 M105.5 514.5 L102.5 514.5 M102.5 514.5 L102.5 512.5 M102.5 512.5 L99.5 512.5 M99.5 512.5 L99.5 509.5 M99.5 509.5 L96.5 509.5 M96.5 509.5 L96.5 503.5 M96.5 503.5 L93.5 503.5 M93.5 503.5 L93.5 501.5 M93.5 501.5 L96.5 501.5 M96.5 501.5 L96.5 495.5 M96.5 495.5 L99.5 495.5 M99.5 495.5 L99.5 492.5 M143.5 487.5 L146.5 487.5 M146.5 487.5 L146.5 489.5 M146.5 489.5 L149.5 489.5 M149.5 489.5 L149.5 492.5 M149.5 492.5 L143.5 492.5 M143.5 492.5 L143.5 487.5" fill="none" stroke="#a6a672" stroke-width="1" stroke-dasharray="2 1" shape-rendering="crispEdges"/>
<rect x="118" y="462" width="1" height="1" fill="#6a6a40"/>
<rect x="118" y="464" width="1" height="1" fill="#6a6a40"/>
<rect x="108.30" y="505.40" width="3.80" height="3.80" fill="#e6e600" stroke="#6e6e00" stroke-width="0.55"/>
<rect x="110.10" y="505.40" width="3.80" height="3.80" fill="#e6e600" stroke="#6e6e00" stroke-width="0.55"/>
<rect x="108.30" y="506.15" width="3.80" height="3.80" fill="#e6e600" stroke="#6e6e00" stroke-width="0.55"/>
<rect x="110.10" y="506.15" width="3.80" height="3.80" fill="#e6e600" stroke="#6e6e00" stroke-width="0.55"/>
<rect x="109.30" y="507.60" width="3.80" height="3.80" fill="#e6e600" stroke="#6e6e00" stroke-width="0.55"/>
<rect x="115.00" y="507.60" width="3.80" height="3.80" fill="#e6e600" stroke="#6e6e00" stroke-width="0.55"/>
<rect x="109.30" y="511.80" width="3.80" height="3.80" fill="#e6e600" stroke="#6e6e00" stroke-width="0.55"/>
<rect x="115.00" y="511.80" width="3.80" height="3.80" fill="#e6e600" stroke="#6e6e00" stroke-width="0.55"/>
<rect x="110.13" y="508.39" width="3.80" height="3.80" fill="#e6e600" stroke="#6e6e00" stroke-width="0.55"/>
<rect x="114.08" y="509.87" width="3.80" height="3.80" fill="#e6e600" stroke="#6e6e00" stroke-width="0.55"/>
<rect x="110.90" y="509.01" width="3.80" height="3.80" fill="#e6e600" stroke="#6e6e00" stroke-width="0.55"/>
<rect x="112.40" y="508.98" width="3.80" height="3.80" fill="#e6e600" stroke="#6e6e00" stroke-width="0.55"/>
<text x="82.86" y="447.95" font-size="7.30" textLength="38.69" lengthAdjust="spacingAndGlyphs" stroke="#000" stroke-width="0.04">M ASN 139</text>
<text x="142.76" y="441.70" font-size="5.60" textLength="20.67" lengthAdjust="spacingAndGlyphs" stroke="#000" stroke-width="0.06"><tspan font-style="italic">cv</tspan> 0.003</text>
<text x="142.73" y="448.60" font-size="5.60" textLength="20.64" lengthAdjust="spacingAndGlyphs" stroke="#000" stroke-width="0.06">Gf 1.12</text>
<circle cx="168.00" cy="439.65" r="2.7" fill="#fff" stroke="#000" stroke-width="0.65" stroke-dasharray="1.5 0.35"/>
<path d="M168.20 436.95 L168.20 439.75 L167.10 439.75" fill="none" stroke="#000" stroke-width="0.7"/>
<polygon points="176.00,436.25 176.88,437.43 178.33,437.22 178.12,438.67 179.30,439.55 178.12,440.43 178.33,441.88 176.88,441.67 176.00,442.85 175.12,441.67 173.67,441.88 173.88,440.43 172.70,439.55 173.88,438.67 173.67,437.22 175.12,437.43" fill="#000"/>
<polygon points="179.30,439.55 178.12,440.43 178.33,441.88 176.88,441.67 176.00,442.85 175.12,441.67 173.67,441.88 173.88,440.43 172.70,439.55" fill="#3c3c00"/>
<path d="M174.00 439.75 A2.0 2.0 0 0 0 178.00 439.75 Z" fill="#e8e800"/>
<circle cx="176.00" cy="439.25" r="1.25" fill="#000"/>
<rect x="166.20" y="445.30" width="3.7" height="3.6" fill="#f0f000" stroke="#7a7a20" stroke-width="0.5"/>
<path d="M182.5 451.5 L182.5 459.5 M182.5 459.5 L185.5 459.5 M185.5 459.5 L185.5 467.5 M185.5 467.5 L188.5 467.5 M188.5 467.5 L188.5 470.5 M188.5 470.5 L191.5 470.5 M191.5 470.5 L191.5 473.5 M191.5 473.5 L193.5 473.5 M193.5 473.5 L193.5 476.5 M193.5 476.5 L196.5 476.5 M196.5 476.5 L196.5 473.5 M196.5 473.5 L202.5 473.5 M202.5 473.5 L202.5 476.5 M202.5 476.5 L205.5 476.5 M205.5 476.5 L205.5 473.5 M205.5 473.5 L210.5 473.5 M210.5 473.5 L210.5 470.5 M210.5 470.5 L213.5 470.5 M213.5 470.5 L213.5 467.5 M213.5 467.5 L216.5 467.5 M216.5 467.5 L216.5 459.5 M216.5 459.5 L213.5 459.5 M213.5 459.5 L213.5 454.5 M213.5 454.5 L210.5 454.5 M210.5 454.5 L210.5 451.5 M199.5 492.5 L202.5 492.5 M202.5 492.5 L202.5 495.5 M202.5 495.5 L207.5 495.5 M207.5 495.5 L207.5 498.5 M207.5 498.5 L210.5 498.5 M210.5 498.5 L210.5 501.5 M210.5 501.5 L213.5 501.5 M213.5 501.5 L213.5 503.5 M213.5 503.5 L216.5 503.5 M216.5 503.5 L216.5 506.5 M216.5 506.5 L218.5 506.5 M218.5 506.5 L218.5 512.5 M218.5 512.5 L221.5 512.5 M221.5 512.5 L221.5 520.5 M221.5 520.5 L210.5 520.5 M210.5 520.5 L210.5 517.5 M210.5 517.5 L205.5 517.5 M205.5 517.5 L205.5 514.5 M205.5 514.5 L202.5 514.5 M202.5 514.5 L202.5 512.5 M202.5 512.5 L199.5 512.5 M199.5 512.5 L199.5 509.5 M199.5 509.5 L196.5 509.5 M196.5 509.5 L196.5 503.5 M196.5 503.5 L193.5 503.5 M193.5 503.5 L193.5 501.5 M193.5 501.5 L196.5 501.5 M196.5 501.5 L196.5 495.5 M196.5 495.5 L199.5 495.5 M199.5 495.5 L199.5 492.5 M243.5 487.5 L246.5 487.5 M246.5 487.5 L246.5 489.5 M246.5 489.5 L249.5 489.5 M249.5 489.5 L249.5 492.5 M249.5 492.5 L243.5 492.5 M243.5 492.5 L243.5 487.5" fill="none" stroke="#a6a672" stroke-width="1" stroke-dasharray="2 1" shape-rendering="crispEdges"/>
<rect x="218" y="462" width="1" height="1" fill="#6a6a40"/>
<rect x="218" y="464" width="1" height="1" fill="#6a6a40"/>
<rect x="204.40" y="509.10" width="3.80" height="3.80" fill="#cccc00" stroke="#5c5800" stroke-width="0.55"/>
<rect x="211.50" y="509.10" width="3.80" height="3.80" fill="#cccc00" stroke="#5c5800" stroke-width="0.55"/>
<rect x="204.40" y="510.15" width="3.80" height="3.80" fill="#cccc00" stroke="#5c5800" stroke-width="0.55"/>
<rect x="211.50" y="510.15" width="3.80" height="3.80" fill="#cccc00" stroke="#5c5800" stroke-width="0.55"/>
<rect x="208.28" y="509.23" width="3.80" height="3.80" fill="#cccc00" stroke="#5c5800" stroke-width="0.55"/>
<rect x="206.39" y="509.55" width="3.80" height="3.80" fill="#cccc00" stroke="#5c5800" stroke-width="0.55"/>
<rect x="208.10" y="513.55" width="3.75" height="3.75" fill="#cccc00" stroke="#5c5800" stroke-width="0.55"/>
<rect x="210.15" y="513.55" width="3.75" height="3.75" fill="#cccc00" stroke="#5c5800" stroke-width="0.55"/>
<text x="182.86" y="447.95" font-size="7.30" textLength="38.68" lengthAdjust="spacingAndGlyphs" stroke="#000" stroke-width="0.04">M ALA 140</text>
<text x="242.76" y="441.70" font-size="5.60" textLength="20.77" lengthAdjust="spacingAndGlyphs" stroke="#000" stroke-width="0.06"><tspan font-style="italic">cv</tspan> 0.002</text>
<text x="242.73" y="448.60" font-size="5.60" textLength="20.47" lengthAdjust="spacingAndGlyphs" stroke="#000" stroke-width="0.06">Gf 0.76</text>
<circle cx="268.00" cy="439.65" r="2.7" fill="#fff" stroke="#000" stroke-width="0.65" stroke-dasharray="1.5 0.35"/>
<path d="M268.20 436.95 L268.20 439.75 L267.10 439.75" fill="none" stroke="#000" stroke-width="0.7"/>
<polygon points="276.00,436.25 276.88,437.43 278.33,437.22 278.12,438.67 279.30,439.55 278.12,440.43 278.33,441.88 276.88,441.67 276.00,442.85 275.12,441.67 273.67,441.88 273.88,440.43 272.70,439.55 273.88,438.67 273.67,437.22 275.12,437.43" fill="#000"/>
<polygon points="279.30,439.55 278.12,440.43 278.33,441.88 276.88,441.67 276.00,442.85 275.12,441.67 273.67,441.88 273.88,440.43 272.70,439.55" fill="#3c3c00"/>
<path d="M274.00 439.75 A2.0 2.0 0 0 0 278.00 439.75 Z" fill="#e8e800"/>
<circle cx="276.00" cy="439.25" r="1.25" fill="#000"/>
<rect x="266.20" y="445.30" width="3.7" height="3.6" fill="#f0f000" stroke="#7a7a20" stroke-width="0.5"/>
<path d="M282.5 451.5 L282.5 459.5 M282.5 459.5 L285.5 459.5 M285.5 459.5 L285.5 467.5 M285.5 467.5 L288.5 467.5 M288.5 467.5 L288.5 470.5 M288.5 470.5 L291.5 470.5 M291.5 470.5 L291.5 473.5 M291.5 473.5 L293.5 473.5 M293.5 473.5 L293.5 476.5 M293.5 476.5 L296.5 476.5 M296.5 476.5 L296.5 473.5 M296.5 473.5 L302.5 473.5 M302.5 473.5 L302.5 476.5 M302.5 476.5 L305.5 476.5 M305.5 476.5 L305.5 473.5 M305.5 473.5 L310.5 473.5 M310.5 473.5 L310.5 470.5 M310.5 470.5 L313.5 470.5 M313.5 470.5 L313.5 467.5 M313.5 467.5 L316.5 467.5 M316.5 467.5 L316.5 459.5 M316.5 459.5 L313.5 459.5 M313.5 459.5 L313.5 454.5 M313.5 454.5 L310.5 454.5 M310.5 454.5 L310.5 451.5 M299.5 492.5 L302.5 492.5 M302.5 492.5 L302.5 495.5 M302.5 495.5 L307.5 495.5 M307.5 495.5 L307.5 498.5 M307.5 498.5 L310.5 498.5 M310.5 498.5 L310.5 501.5 M310.5 501.5 L313.5 501.5 M313.5 501.5 L313.5 503.5 M313.5 503.5 L316.5 503.5 M316.5 503.5 L316.5 506.5 M316.5 506.5 L318.5 506.5 M318.5 506.5 L318.5 512.5 M318.5 512.5 L321.5 512.5 M321.5 512.5 L321.5 520.5 M321.5 520.5 L310.5 520.5 M310.5 520.5 L310.5 517.5 M310.5 517.5 L305.5 517.5 M305.5 517.5 L305.5 514.5 M305.5 514.5 L302.5 514.5 M302.5 514.5 L302.5 512.5 M302.5 512.5 L299.5 512.5 M299.5 512.5 L299.5 509.5 M299.5 509.5 L296.5 509.5 M296.5 509.5 L296.5 503.5 M296.5 503.5 L293.5 503.5 M293.5 503.5 L293.5 501.5 M293.5 501.5 L296.5 501.5 M296.5 501.5 L296.5 495.5 M296.5 495.5 L299.5 495.5 M299.5 495.5 L299.5 492.5 M343.5 487.5 L346.5 487.5 M346.5 487.5 L346.5 489.5 M346.5 489.5 L349.5 489.5 M349.5 489.5 L349.5 492.5 M349.5 492.5 L343.5 492.5 M343.5 492.5 L343.5 487.5" fill="none" stroke="#a6a672" stroke-width="1" stroke-dasharray="2 1" shape-rendering="crispEdges"/>
<rect x="318" y="462" width="1" height="1" fill="#6a6a40"/>
<rect x="318" y="464" width="1" height="1" fill="#6a6a40"/>
<rect x="307.60" y="509.30" width="3.80" height="3.80" fill="#cccc00" stroke="#5c5800" stroke-width="0.55"/>
<rect x="311.50" y="509.30" width="3.80" height="3.80" fill="#cccc00" stroke="#5c5800" stroke-width="0.55"/>
<rect x="307.60" y="512.80" width="3.80" height="3.80" fill="#cccc00" stroke="#5c5800" stroke-width="0.55"/>
<rect x="311.50" y="512.80" width="3.80" height="3.80" fill="#cccc00" stroke="#5c5800" stroke-width="0.55"/>
<rect x="309.87" y="509.98" width="3.80" height="3.80" fill="#cccc00" stroke="#5c5800" stroke-width="0.55"/>
<rect x="309.42" y="511.62" width="3.80" height="3.80" fill="#cccc00" stroke="#5c5800" stroke-width="0.55"/>
<text x="282.86" y="447.95" font-size="7.30" textLength="38.09" lengthAdjust="spacingAndGlyphs" stroke="#000" stroke-width="0.04">M VAL 141</text>
<text x="342.76" y="441.70" font-size="5.60" textLength="20.80" lengthAdjust="spacingAndGlyphs" stroke="#000" stroke-width="0.06"><tspan font-style="italic">cv</tspan> 0.001</text>
<text x="342.73" y="448.60" font-size="5.60" textLength="20.64" lengthAdjust="spacingAndGlyphs" stroke="#000" stroke-width="0.06">Gf 0.92</text>
<circle cx="368.00" cy="439.65" r="2.7" fill="#fff" stroke="#000" stroke-width="0.65" stroke-dasharray="1.5 0.35"/>
<path d="M368.20 436.95 L368.20 439.75 L367.10 439.75" fill="none" stroke="#000" stroke-width="0.7"/>
<polygon points="376.00,436.25 376.88,437.43 378.33,437.22 378.12,438.67 379.30,439.55 378.12,440.43 378.33,441.88 376.88,441.67 376.00,442.85 375.12,441.67 373.67,441.88 373.88,440.43 372.70,439.55 373.88,438.67 373.67,437.22 375.12,437.43" fill="#000"/>
<polygon points="379.30,439.55 378.12,440.43 378.33,441.88 376.88,441.67 376.00,442.85 375.12,441.67 373.67,441.88 373.88,440.43 372.70,439.55" fill="#3c3c00"/>
<path d="M374.00 439.75 A2.0 2.0 0 0 0 378.00 439.75 Z" fill="#e8e800"/>
<circle cx="376.00" cy="439.25" r="1.25" fill="#000"/>
<rect x="366.20" y="445.30" width="3.7" height="3.6" fill="#f0f000" stroke="#7a7a20" stroke-width="0.5"/>
<path d="M382.5 451.5 L382.5 459.5 M382.5 459.5 L385.5 459.5 M385.5 459.5 L385.5 467.5 M385.5 467.5 L388.5 467.5 M388.5 467.5 L388.5 470.5 M388.5 470.5 L391.5 470.5 M391.5 470.5 L391.5 473.5 M391.5 473.5 L393.5 473.5 M393.5 473.5 L393.5 476.5 M393.5 476.5 L396.5 476.5 M396.5 476.5 L396.5 473.5 M396.5 473.5 L402.5 473.5 M402.5 473.5 L402.5 476.5 M402.5 476.5 L405.5 476.5 M405.5 476.5 L405.5 473.5 M405.5 473.5 L410.5 473.5 M410.5 473.5 L410.5 470.5 M410.5 470.5 L413.5 470.5 M413.5 470.5 L413.5 467.5 M413.5 467.5 L416.5 467.5 M416.5 467.5 L416.5 459.5 M416.5 459.5 L413.5 459.5 M413.5 459.5 L413.5 454.5 M413.5 454.5 L410.5 454.5 M410.5 454.5 L410.5 451.5 M399.5 492.5 L402.5 492.5 M402.5 492.5 L402.5 495.5 M402.5 495.5 L407.5 495.5 M407.5 495.5 L407.5 498.5 M407.5 498.5 L410.5 498.5 M410.5 498.5 L410.5 501.5 M410.5 501.5 L413.5 501.5 M413.5 501.5 L413.5 503.5 M413.5 503.5 L416.5 503.5 M416.5 503.5 L416.5 506.5 M416.5 506.5 L418.5 506.5 M418.5 506.5 L418.5 512.5 M418.5 512.5 L421.5 512.5 M421.5 512.5 L421.5 520.5 M421.5 520.5 L410.5 520.5 M410.5 520.5 L410.5 517.5 M410.5 517.5 L405.5 517.5 M405.5 517.5 L405.5 514.5 M405.5 514.5 L402.5 514.5 M402.5 514.5 L402.5 512.5 M402.5 512.5 L399.5 512.5 M399.5 512.5 L399.5 509.5 M399.5 509.5 L396.5 509.5 M396.5 509.5 L396.5 503.5 M396.5 503.5 L393.5 503.5 M393.5 503.5 L393.5 501.5 M393.5 501.5 L396.5 501.5 M396.5 501.5 L396.5 495.5 M396.5 495.5 L399.5 495.5 M399.5 495.5 L399.5 492.5 M443.5 487.5 L446.5 487.5 M446.5 487.5 L446.5 489.5 M446.5 489.5 L449.5 489.5 M449.5 489.5 L449.5 492.5 M449.5 492.5 L443.5 492.5 M443.5 492.5 L443.5 487.5" fill="none" stroke="#a6a672" stroke-width="1" stroke-dasharray="2 1" shape-rendering="crispEdges"/>
<rect x="418" y="462" width="1" height="1" fill="#6a6a40"/>
<rect x="418" y="464" width="1" height="1" fill="#6a6a40"/>
<rect x="409.30" y="509.30" width="3.80" height="3.80" fill="#cccc00" stroke="#5c5800" stroke-width="0.55"/>
<rect x="412.80" y="509.30" width="3.80" height="3.80" fill="#cccc00" stroke="#5c5800" stroke-width="0.55"/>
<rect x="409.30" y="512.75" width="3.80" height="3.80" fill="#cccc00" stroke="#5c5800" stroke-width="0.55"/>
<rect x="412.80" y="512.75" width="3.80" height="3.80" fill="#cccc00" stroke="#5c5800" stroke-width="0.55"/>
<rect x="409.76" y="512.11" width="3.80" height="3.80" fill="#cccc00" stroke="#5c5800" stroke-width="0.55"/>
<rect x="412.38" y="510.63" width="3.80" height="3.80" fill="#cccc00" stroke="#5c5800" stroke-width="0.55"/>
<rect x="410.50" y="514.05" width="3.75" height="3.75" fill="#e6e600" stroke="#6e6e00" stroke-width="0.55"/>
<rect x="411.75" y="514.05" width="3.75" height="3.75" fill="#e6e600" stroke="#6e6e00" stroke-width="0.55"/>
<text x="382.86" y="447.95" font-size="7.30" textLength="38.09" lengthAdjust="spacingAndGlyphs" stroke="#000" stroke-width="0.04">M VAL 142</text>
<text x="442.76" y="441.70" font-size="5.60" textLength="20.80" lengthAdjust="spacingAndGlyphs" stroke="#000" stroke-width="0.06"><tspan font-style="italic">cv</tspan> 0.001</text>
<text x="442.73" y="448.60" font-size="5.60" textLength="20.54" lengthAdjust="spacingAndGlyphs" stroke="#000" stroke-width="0.06">Gf 0.93</text>
<circle cx="468.00" cy="439.65" r="2.7" fill="#fff" stroke="#000" stroke-width="0.65" stroke-dasharray="1.5 0.35"/>
<path d="M468.20 436.95 L468.20 439.75 L467.10 439.75" fill="none" stroke="#000" stroke-width="0.7"/>
<polygon points="476.00,436.25 476.88,437.43 478.33,437.22 478.12,438.67 479.30,439.55 478.12,440.43 478.33,441.88 476.88,441.67 476.00,442.85 475.12,441.67 473.67,441.88 473.88,440.43 472.70,439.55 473.88,438.67 473.67,437.22 475.12,437.43" fill="#000"/>
<polygon points="479.30,439.55 478.12,440.43 478.33,441.88 476.88,441.67 476.00,442.85 475.12,441.67 473.67,441.88 473.88,440.43 472.70,439.55" fill="#3c3c00"/>
<path d="M474.00 439.75 A2.0 2.0 0 0 0 478.00 439.75 Z" fill="#e8e800"/>
<circle cx="476.00" cy="439.25" r="1.25" fill="#000"/>
<rect x="466.20" y="445.30" width="3.7" height="3.6" fill="#f0f000" stroke="#7a7a20" stroke-width="0.5"/>
<path d="M82.5 569.5 L82.5 577.5 M82.5 577.5 L85.5 577.5 M85.5 577.5 L85.5 585.5 M85.5 585.5 L88.5 585.5 M88.5 585.5 L88.5 588.5 M88.5 588.5 L91.5 588.5 M91.5 588.5 L91.5 591.5 M91.5 591.5 L93.5 591.5 M93.5 591.5 L93.5 594.5 M93.5 594.5 L96.5 594.5 M96.5 594.5 L96.5 591.5 M96.5 591.5 L102.5 591.5 M102.5 591.5 L102.5 594.5 M102.5 594.5 L105.5 594.5 M105.5 594.5 L105.5 591.5 M105.5 591.5 L110.5 591.5 M110.5 591.5 L110.5 588.5 M110.5 588.5 L113.5 588.5 M113.5 588.5 L113.5 585.5 M113.5 585.5 L116.5 585.5 M116.5 585.5 L116.5 577.5 M116.5 577.5 L113.5 577.5 M113.5 577.5 L113.5 572.5 M113.5 572.5 L110.5 572.5 M110.5 572.5 L110.5 569.5 M99.5 610.5 L102.5 610.5 M102.5 610.5 L102.5 613.5 M102.5 613.5 L107.5 613.5 M107.5 613.5 L107.5 616.5 M107.5 616.5 L110.5 616.5 M110.5 616.5 L110.5 619.5 M110.5 619.5 L113.5 619.5 M113.5 619.5 L113.5 621.5 M113.5 621.5 L116.5 621.5 M116.5 621.5 L116.5 624.5 M116.5 624.5 L118.5 624.5 M118.5 624.5 L118.5 630.5 M118.5 630.5 L121.5 630.5 M121.5 630.5 L121.5 638.5 M121.5 638.5 L110.5 638.5 M110.5 638.5 L110.5 635.5 M110.5 635.5 L105.5 635.5 M105.5 635.5 L105.5 632.5 M105.5 632.5 L102.5 632.5 M102.5 632.5 L102.5 630.5 M102.5 630.5 L99.5 630.5 M99.5 630.5 L99.5 627.5 M99.5 627.5 L96.5 627.5 M96.5 627.5 L96.5 621.5 M96.5 621.5 L93.5 621.5 M93.5 621.5 L93.5 619.5 M93.5 619.5 L96.5 619.5 M96.5 619.5 L96.5 613.5 M96.5 613.5 L99.5 613.5 M99.5 613.5 L99.5 610.5 M143.5 605.5 L146.5 605.5 M146.5 605.5 L146.5 607.5 M146.5 607.5 L149.5 607.5 M149.5 607.5 L149.5 610.5 M149.5 610.5 L143.5 610.5 M143.5 610.5 L143.5 605.5" fill="none" stroke="#a6a672" stroke-width="1" stroke-dasharray="2 1" shape-rendering="crispEdges"/>
<rect x="118" y="580" width="1" height="1" fill="#6a6a40"/>
<rect x="118" y="582" width="1" height="1" fill="#6a6a40"/>
<rect x="107.40" y="624.40" width="3.80" height="3.80" fill="#cccc00" stroke="#5c5800" stroke-width="0.55"/>
<rect x="107.90" y="624.40" width="3.80" height="3.80" fill="#cccc00" stroke="#5c5800" stroke-width="0.55"/>
<rect x="107.40" y="625.40" width="3.80" height="3.80" fill="#cccc00" stroke="#5c5800" stroke-width="0.55"/>
<rect x="107.90" y="625.40" width="3.80" height="3.80" fill="#cccc00" stroke="#5c5800" stroke-width="0.55"/>
<rect x="108.80" y="626.35" width="3.80" height="3.80" fill="#cccc00" stroke="#5c5800" stroke-width="0.55"/>
<rect x="111.80" y="626.35" width="3.80" height="3.80" fill="#cccc00" stroke="#5c5800" stroke-width="0.55"/>
<rect x="108.80" y="629.80" width="3.80" height="3.80" fill="#cccc00" stroke="#5c5800" stroke-width="0.55"/>
<rect x="111.80" y="629.80" width="3.80" height="3.80" fill="#cccc00" stroke="#5c5800" stroke-width="0.55"/>
<rect x="111.49" y="627.03" width="3.80" height="3.80" fill="#cccc00" stroke="#5c5800" stroke-width="0.55"/>
<rect x="109.14" y="626.74" width="3.80" height="3.80" fill="#cccc00" stroke="#5c5800" stroke-width="0.55"/>
<text x="82.86" y="565.95" font-size="7.30" textLength="38.68" lengthAdjust="spacingAndGlyphs" stroke="#000" stroke-width="0.04">M LEU 143</text>
<text x="142.76" y="559.70" font-size="5.60" textLength="20.77" lengthAdjust="spacingAndGlyphs" stroke="#000" stroke-width="0.06"><tspan font-style="italic">cv</tspan> 0.002</text>
<text x="142.73" y="566.60" font-size="5.60" textLength="20.37" lengthAdjust="spacingAndGlyphs" stroke="#000" stroke-width="0.06">Gf 0.94</text>
<circle cx="168.00" cy="557.65" r="2.7" fill="#fff" stroke="#000" stroke-width="0.65" stroke-dasharray="1.5 0.35"/>
<path d="M168.20 554.95 L168.20 557.75 L167.10 557.75" fill="none" stroke="#000" stroke-width="0.7"/>
<polygon points="176.00,554.35 176.96,555.24 178.26,555.29 178.31,556.59 179.20,557.55 178.31,558.51 178.26,559.81 176.96,559.86 176.00,560.75 175.04,559.86 173.74,559.81 173.69,558.51 172.80,557.55 173.69,556.59 173.74,555.29 175.04,555.24" fill="#3c3c00"/>
<circle cx="176.00" cy="557.55" r="2.2" fill="#e8e800"/>
<ellipse cx="176.00" cy="557.05" rx="1.1" ry="1.3" fill="#000"/>
<rect x="166.20" y="563.30" width="3.7" height="3.6" fill="#f0f000" stroke="#7a7a20" stroke-width="0.5"/>
<path d="M182.5 569.5 L182.5 577.5 M182.5 577.5 L185.5 577.5 M185.5 577.5 L185.5 585.5 M185.5 585.5 L188.5 585.5 M188.5 585.5 L188.5 588.5 M188.5 588.5 L191.5 588.5 M191.5 588.5 L191.5 591.5 M191.5 591.5 L193.5 591.5 M193.5 591.5 L193.5 594.5 M193.5 594.5 L196.5 594.5 M196.5 594.5 L196.5 591.5 M196.5 591.5 L202.5 591.5 M202.5 591.5 L202.5 594.5 M202.5 594.5 L205.5 594.5 M205.5 594.5 L205.5 591.5 M205.5 591.5 L210.5 591.5 M210.5 591.5 L210.5 588.5 M210.5 588.5 L213.5 588.5 M213.5 588.5 L213.5 585.5 M213.5 585.5 L216.5 585.5 M216.5 585.5 L216.5 577.5 M216.5 577.5 L213.5 577.5 M213.5 577.5 L213.5 572.5 M213.5 572.5 L210.5 572.5 M210.5 572.5 L210.5 569.5 M199.5 610.5 L202.5 610.5 M202.5 610.5 L202.5 613.5 M202.5 613.5 L207.5 613.5 M207.5 613.5 L207.5 616.5 M207.5 616.5 L210.5 616.5 M210.5 616.5 L210.5 619.5 M210.5 619.5 L213.5 619.5 M213.5 619.5 L213.5 621.5 M213.5 621.5 L216.5 621.5 M216.5 621.5 L216.5 624.5 M216.5 624.5 L218.5 624.5 M218.5 624.5 L218.5 630.5 M218.5 630.5 L221.5 630.5 M221.5 630.5 L221.5 638.5 M221.5 638.5 L210.5 638.5 M210.5 638.5 L210.5 635.5 M210.5 635.5 L205.5 635.5 M205.5 635.5 L205.5 632.5 M205.5 632.5 L202.5 632.5 M202.5 632.5 L202.5 630.5 M202.5 630.5 L199.5 630.5 M199.5 630.5 L199.5 627.5 M199.5 627.5 L196.5 627.5 M196.5 627.5 L196.5 621.5 M196.5 621.5 L193.5 621.5 M193.5 621.5 L193.5 619.5 M193.5 619.5 L196.5 619.5 M196.5 619.5 L196.5 613.5 M196.5 613.5 L199.5 613.5 M199.5 613.5 L199.5 610.5 M243.5 605.5 L246.5 605.5 M246.5 605.5 L246.5 607.5 M246.5 607.5 L249.5 607.5 M249.5 607.5 L249.5 610.5 M249.5 610.5 L243.5 610.5 M243.5 610.5 L243.5 605.5" fill="none" stroke="#a6a672" stroke-width="1" stroke-dasharray="2 1" shape-rendering="crispEdges"/>
<rect x="218" y="580" width="1" height="1" fill="#6a6a40"/>
<rect x="218" y="582" width="1" height="1" fill="#6a6a40"/>
<rect x="208.30" y="626.30" width="3.80" height="3.80" fill="#cccc00" stroke="#5c5800" stroke-width="0.55"/>
<rect x="210.80" y="626.30" width="3.80" height="3.80" fill="#cccc00" stroke="#5c5800" stroke-width="0.55"/>
<rect x="208.30" y="629.55" width="3.80" height="3.80" fill="#cccc00" stroke="#5c5800" stroke-width="0.55"/>
<rect x="210.80" y="629.55" width="3.80" height="3.80" fill="#cccc00" stroke="#5c5800" stroke-width="0.55"/>
<rect x="209.58" y="628.24" width="3.80" height="3.80" fill="#cccc00" stroke="#5c5800" stroke-width="0.55"/>
<rect x="209.06" y="629.32" width="3.80" height="3.80" fill="#cccc00" stroke="#5c5800" stroke-width="0.55"/>
<rect x="212.30" y="628.05" width="3.80" height="3.80" fill="#e6e600" stroke="#6e6e00" stroke-width="0.55"/>
<rect x="213.80" y="628.05" width="3.80" height="3.80" fill="#e6e600" stroke="#6e6e00" stroke-width="0.55"/>
<rect x="212.30" y="629.80" width="3.80" height="3.80" fill="#e6e600" stroke="#6e6e00" stroke-width="0.55"/>
<rect x="213.80" y="629.80" width="3.80" height="3.80" fill="#e6e600" stroke="#6e6e00" stroke-width="0.55"/>
<rect x="213.39" y="629.38" width="3.80" height="3.80" fill="#e6e600" stroke="#6e6e00" stroke-width="0.55"/>
<text x="182.86" y="565.95" font-size="7.30" textLength="37.44" lengthAdjust="spacingAndGlyphs" stroke="#000" stroke-width="0.04">M LYS 144</text>
<text x="242.76" y="559.70" font-size="5.60" textLength="20.67" lengthAdjust="spacingAndGlyphs" stroke="#000" stroke-width="0.06"><tspan font-style="italic">cv</tspan> 0.003</text>
<text x="242.73" y="566.60" font-size="5.60" textLength="20.54" lengthAdjust="spacingAndGlyphs" stroke="#000" stroke-width="0.06">Gf 1.08</text>
<circle cx="268.00" cy="557.65" r="2.7" fill="#fff" stroke="#000" stroke-width="0.65" stroke-dasharray="1.5 0.35"/>
<path d="M268.20 554.95 L268.20 557.75 L267.10 557.75" fill="none" stroke="#000" stroke-width="0.7"/>
<polygon points="276.00,554.25 276.88,555.43 278.33,555.22 278.12,556.67 279.30,557.55 278.12,558.43 278.33,559.88 276.88,559.67 276.00,560.85 275.12,559.67 273.67,559.88 273.88,558.43 272.70,557.55 273.88,556.67 273.67,555.22 275.12,555.43" fill="#000"/>
<polygon points="279.30,557.55 278.12,558.43 278.33,559.88 276.88,559.67 276.00,560.85 275.12,559.67 273.67,559.88 273.88,558.43 272.70,557.55" fill="#3c3c00"/>
<path d="M274.00 557.75 A2.0 2.0 0 0 0 278.00 557.75 Z" fill="#e8e800"/>
<circle cx="276.00" cy="557.25" r="1.25" fill="#000"/>
<rect x="266.20" y="563.30" width="3.7" height="3.6" fill="#f0f000" stroke="#7a7a20" stroke-width="0.5"/>
<path d="M282.5 569.5 L282.5 577.5 M282.5 577.5 L285.5 577.5 M285.5 577.5 L285.5 585.5 M285.5 585.5 L288.5 585.5 M288.5 585.5 L288.5 588.5 M288.5 588.5 L291.5 588.5 M291.5 588.5 L291.5 591.5 M291.5 591.5 L293.5 591.5 M293.5 591.5 L293.5 594.5 M293.5 594.5 L296.5 594.5 M296.5 594.5 L296.5 591.5 M296.5 591.5 L302.5 591.5 M302.5 591.5 L302.5 594.5 M302.5 594.5 L305.5 594.5 M305.5 594.5 L305.5 591.5 M305.5 591.5 L310.5 591.5 M310.5 591.5 L310.5 588.5 M310.5 588.5 L313.5 588.5 M313.5 588.5 L313.5 585.5 M313.5 585.5 L316.5 585.5 M316.5 585.5 L316.5 577.5 M316.5 577.5 L313.5 577.5 M313.5 577.5 L313.5 572.5 M313.5 572.5 L310.5 572.5 M310.5 572.5 L310.5 569.5 M299.5 610.5 L302.5 610.5 M302.5 610.5 L302.5 613.5 M302.5 613.5 L307.5 613.5 M307.5 613.5 L307.5 616.5 M307.5 616.5 L310.5 616.5 M310.5 616.5 L310.5 619.5 M310.5 619.5 L313.5 619.5 M313.5 619.5 L313.5 621.5 M313.5 621.5 L316.5 621.5 M316.5 621.5 L316.5 624.5 M316.5 624.5 L318.5 624.5 M318.5 624.5 L318.5 630.5 M318.5 630.5 L321.5 630.5 M321.5 630.5 L321.5 638.5 M321.5 638.5 L310.5 638.5 M310.5 638.5 L310.5 635.5 M310.5 635.5 L305.5 635.5 M305.5 635.5 L305.5 632.5 M305.5 632.5 L302.5 632.5 M302.5 632.5 L302.5 630.5 M302.5 630.5 L299.5 630.5 M299.5 630.5 L299.5 627.5 M299.5 627.5 L296.5 627.5 M296.5 627.5 L296.5 621.5 M296.5 621.5 L293.5 621.5 M293.5 621.5 L293.5 619.5 M293.5 619.5 L296.5 619.5 M296.5 619.5 L296.5 613.5 M296.5 613.5 L299.5 613.5 M299.5 613.5 L299.5 610.5 M343.5 605.5 L346.5 605.5 M346.5 605.5 L346.5 607.5 M346.5 607.5 L349.5 607.5 M349.5 607.5 L349.5 610.5 M349.5 610.5 L343.5 610.5 M343.5 610.5 L343.5 605.5" fill="none" stroke="#a6a672" stroke-width="1" stroke-dasharray="2 1" shape-rendering="crispEdges"/>
<rect x="318" y="580" width="1" height="1" fill="#6a6a40"/>
<rect x="318" y="582" width="1" height="1" fill="#6a6a40"/>
<rect x="307.40" y="623.20" width="3.80" height="3.80" fill="#e6e600" stroke="#6e6e00" stroke-width="0.55"/>
<rect x="307.90" y="623.20" width="3.80" height="3.80" fill="#e6e600" stroke="#6e6e00" stroke-width="0.55"/>
<rect x="307.40" y="623.65" width="3.80" height="3.80" fill="#e6e600" stroke="#6e6e00" stroke-width="0.55"/>
<rect x="307.90" y="623.65" width="3.80" height="3.80" fill="#e6e600" stroke="#6e6e00" stroke-width="0.55"/>
<rect x="308.80" y="625.65" width="3.80" height="3.80" fill="#cccc00" stroke="#5c5800" stroke-width="0.55"/>
<rect x="311.80" y="625.65" width="3.80" height="3.80" fill="#cccc00" stroke="#5c5800" stroke-width="0.55"/>
<rect x="308.80" y="629.80" width="3.80" height="3.80" fill="#cccc00" stroke="#5c5800" stroke-width="0.55"/>
<rect x="311.80" y="629.80" width="3.80" height="3.80" fill="#cccc00" stroke="#5c5800" stroke-width="0.55"/>
<rect x="310.56" y="628.90" width="3.80" height="3.80" fill="#cccc00" stroke="#5c5800" stroke-width="0.55"/>
<rect x="309.62" y="629.32" width="3.80" height="3.80" fill="#cccc00" stroke="#5c5800" stroke-width="0.55"/>
<rect x="311.47" y="629.61" width="3.80" height="3.80" fill="#cccc00" stroke="#5c5800" stroke-width="0.55"/>
<text x="282.86" y="565.95" font-size="7.30" textLength="39.58" lengthAdjust="spacingAndGlyphs" stroke="#000" stroke-width="0.04">M ARG 145</text>
<text x="342.76" y="559.70" font-size="5.60" textLength="20.67" lengthAdjust="spacingAndGlyphs" stroke="#000" stroke-width="0.06"><tspan font-style="italic">cv</tspan> 0.003</text>
<text x="342.73" y="566.60" font-size="5.60" textLength="20.54" lengthAdjust="spacingAndGlyphs" stroke="#000" stroke-width="0.06">Gf 0.93</text>
<circle cx="368.00" cy="557.65" r="2.7" fill="#fff" stroke="#000" stroke-width="0.65" stroke-dasharray="1.5 0.35"/>
<path d="M368.20 554.95 L368.20 557.75 L367.10 557.75" fill="none" stroke="#000" stroke-width="0.7"/>
<polygon points="376.00,554.35 376.96,555.24 378.26,555.29 378.31,556.59 379.20,557.55 378.31,558.51 378.26,559.81 376.96,559.86 376.00,560.75 375.04,559.86 373.74,559.81 373.69,558.51 372.80,557.55 373.69,556.59 373.74,555.29 375.04,555.24" fill="#3c3c00"/>
<circle cx="376.00" cy="557.55" r="2.2" fill="#e8e800"/>
<ellipse cx="376.00" cy="557.05" rx="1.1" ry="1.3" fill="#000"/>
<rect x="366.20" y="563.30" width="3.7" height="3.6" fill="#f0f000" stroke="#7a7a20" stroke-width="0.5"/>
<path d="M382.5 569.5 L382.5 577.5 M382.5 577.5 L385.5 577.5 M385.5 577.5 L385.5 585.5 M385.5 585.5 L388.5 585.5 M388.5 585.5 L388.5 588.5 M388.5 588.5 L391.5 588.5 M391.5 588.5 L391.5 591.5 M391.5 591.5 L393.5 591.5 M393.5 591.5 L393.5 594.5 M393.5 594.5 L396.5 594.5 M396.5 594.5 L396.5 591.5 M396.5 591.5 L402.5 591.5 M402.5 591.5 L402.5 594.5 M402.5 594.5 L405.5 594.5 M405.5 594.5 L405.5 591.5 M405.5 591.5 L410.5 591.5 M410.5 591.5 L410.5 588.5 M410.5 588.5 L413.5 588.5 M413.5 588.5 L413.5 585.5 M413.5 585.5 L416.5 585.5 M416.5 585.5 L416.5 577.5 M416.5 577.5 L413.5 577.5 M413.5 577.5 L413.5 572.5 M413.5 572.5 L410.5 572.5 M410.5 572.5 L410.5 569.5 M399.5 610.5 L402.5 610.5 M402.5 610.5 L402.5 613.5 M402.5 613.5 L407.5 613.5 M407.5 613.5 L407.5 616.5 M407.5 616.5 L410.5 616.5 M410.5 616.5 L410.5 619.5 M410.5 619.5 L413.5 619.5 M413.5 619.5 L413.5 621.5 M413.5 621.5 L416.5 621.5 M416.5 621.5 L416.5 624.5 M416.5 624.5 L418.5 624.5 M418.5 624.5 L418.5 630.5 M418.5 630.5 L421.5 630.5 M421.5 630.5 L421.5 638.5 M421.5 638.5 L410.5 638.5 M410.5 638.5 L410.5 635.5 M410.5 635.5 L405.5 635.5 M405.5 635.5 L405.5 632.5 M405.5 632.5 L402.5 632.5 M402.5 632.5 L402.5 630.5 M402.5 630.5 L399.5 630.5 M399.5 630.5 L399.5 627.5 M399.5 627.5 L396.5 627.5 M396.5 627.5 L396.5 621.5 M396.5 621.5 L393.5 621.5 M393.5 621.5 L393.5 619.5 M393.5 619.5 L396.5 619.5 M396.5 619.5 L396.5 613.5 M396.5 613.5 L399.5 613.5 M399.5 613.5 L399.5 610.5 M443.5 605.5 L446.5 605.5 M446.5 605.5 L446.5 607.5 M446.5 607.5 L449.5 607.5 M449.5 607.5 L449.5 610.5 M449.5 610.5 L443.5 610.5 M443.5 610.5 L443.5 605.5" fill="none" stroke="#a6a672" stroke-width="1" stroke-dasharray="2 1" shape-rendering="crispEdges"/>
<rect x="418" y="580" width="1" height="1" fill="#6a6a40"/>
<rect x="418" y="582" width="1" height="1" fill="#6a6a40"/>
<rect x="406.40" y="624.10" width="3.80" height="3.80" fill="#cccc00" stroke="#5c5800" stroke-width="0.55"/>
<rect x="408.90" y="624.10" width="3.80" height="3.80" fill="#cccc00" stroke="#5c5800" stroke-width="0.55"/>
<rect x="406.40" y="629.50" width="3.80" height="3.80" fill="#cccc00" stroke="#5c5800" stroke-width="0.55"/>
<rect x="408.90" y="629.50" width="3.80" height="3.80" fill="#cccc00" stroke="#5c5800" stroke-width="0.55"/>
<rect x="407.84" y="626.95" width="3.80" height="3.80" fill="#cccc00" stroke="#5c5800" stroke-width="0.55"/>
<rect x="407.48" y="628.23" width="3.80" height="3.80" fill="#cccc00" stroke="#5c5800" stroke-width="0.55"/>
<rect x="407.46" y="624.86" width="3.80" height="3.80" fill="#cccc00" stroke="#5c5800" stroke-width="0.55"/>
<rect x="408.30" y="625.55" width="3.80" height="3.80" fill="#cccc00" stroke="#5c5800" stroke-width="0.55"/>
<rect x="410.80" y="625.55" width="3.80" height="3.80" fill="#cccc00" stroke="#5c5800" stroke-width="0.55"/>
<rect x="408.30" y="628.15" width="3.80" height="3.80" fill="#cccc00" stroke="#5c5800" stroke-width="0.55"/>
<rect x="410.80" y="628.15" width="3.80" height="3.80" fill="#cccc00" stroke="#5c5800" stroke-width="0.55"/>
<rect x="409.89" y="625.67" width="3.80" height="3.80" fill="#cccc00" stroke="#5c5800" stroke-width="0.55"/>
<text x="382.86" y="565.95" font-size="7.30" textLength="35.56" lengthAdjust="spacingAndGlyphs" stroke="#000" stroke-width="0.04">M ILE 146</text>
<text x="442.76" y="559.70" font-size="5.60" textLength="20.77" lengthAdjust="spacingAndGlyphs" stroke="#000" stroke-width="0.06"><tspan font-style="italic">cv</tspan> 0.002</text>
<text x="442.73" y="566.60" font-size="5.60" textLength="20.47" lengthAdjust="spacingAndGlyphs" stroke="#000" stroke-width="0.06">Gf 0.46</text>
<circle cx="468.00" cy="557.65" r="2.7" fill="#fff" stroke="#000" stroke-width="0.65" stroke-dasharray="1.5 0.35"/>
<path d="M468.20 554.95 L468.20 557.75 L467.10 557.75" fill="none" stroke="#000" stroke-width="0.7"/>
<polygon points="476.00,554.35 476.96,555.24 478.26,555.29 478.31,556.59 479.20,557.55 478.31,558.51 478.26,559.81 476.96,559.86 476.00,560.75 475.04,559.86 473.74,559.81 473.69,558.51 472.80,557.55 473.69,556.59 473.74,555.29 475.04,555.24" fill="#3c3c00"/>
<circle cx="476.00" cy="557.55" r="2.2" fill="#e8e800"/>
<ellipse cx="476.00" cy="557.05" rx="1.1" ry="1.3" fill="#000"/>
<rect x="466.20" y="563.30" width="3.7" height="3.6" fill="#f0f000" stroke="#7a7a20" stroke-width="0.5"/>
<line x1="76.8" y1="113.83" x2="80" y2="113.83" stroke="#222" stroke-width="0.8"/>
<text x="64.70" y="116.43" font-size="7.60" textLength="11.40" lengthAdjust="spacingAndGlyphs" stroke="#000" stroke-width="0.12">120</text>
<line x1="76.8" y1="130.42" x2="80" y2="130.42" stroke="#222" stroke-width="0.8"/>
<text x="68.50" y="133.02" font-size="7.60" textLength="7.60" lengthAdjust="spacingAndGlyphs" stroke="#000" stroke-width="0.12">60</text>
<line x1="76.8" y1="147.00" x2="80" y2="147.00" stroke="#222" stroke-width="0.8"/>
<text x="72.30" y="149.60" font-size="7.60" textLength="3.80" lengthAdjust="spacingAndGlyphs" stroke="#000" stroke-width="0.12">0</text>
<line x1="76.8" y1="163.58" x2="80" y2="163.58" stroke="#222" stroke-width="0.8"/>
<text x="65.96" y="166.18" font-size="7.60" textLength="10.13" lengthAdjust="spacingAndGlyphs" stroke="#000" stroke-width="0.12">-60</text>
<line x1="76.8" y1="180.17" x2="80" y2="180.17" stroke="#222" stroke-width="0.8"/>
<text x="62.16" y="182.77" font-size="7.60" textLength="13.93" lengthAdjust="spacingAndGlyphs" stroke="#000" stroke-width="0.12">-120</text>
<line x1="76.8" y1="231.83" x2="80" y2="231.83" stroke="#222" stroke-width="0.8"/>
<text x="64.70" y="234.43" font-size="7.60" textLength="11.40" lengthAdjust="spacingAndGlyphs" stroke="#000" stroke-width="0.12">120</text>
<line x1="76.8" y1="248.42" x2="80" y2="248.42" stroke="#222" stroke-width="0.8"/>
<text x="68.50" y="251.02" font-size="7.60" textLength="7.60" lengthAdjust="spacingAndGlyphs" stroke="#000" stroke-width="0.12">60</text>
<line x1="76.8" y1="265.00" x2="80" y2="265.00" stroke="#222" stroke-width="0.8"/>
<text x="72.30" y="267.60" font-size="7.60" textLength="3.80" lengthAdjust="spacingAndGlyphs" stroke="#000" stroke-width="0.12">0</text>
<line x1="76.8" y1="281.58" x2="80" y2="281.58" stroke="#222" stroke-width="0.8"/>
<text x="65.96" y="284.18" font-size="7.60" textLength="10.13" lengthAdjust="spacingAndGlyphs" stroke="#000" stroke-width="0.12">-60</text>
<line x1="76.8" y1="298.17" x2="80" y2="298.17" stroke="#222" stroke-width="0.8"/>
<text x="62.16" y="300.77" font-size="7.60" textLength="13.93" lengthAdjust="spacingAndGlyphs" stroke="#000" stroke-width="0.12">-120</text>
<line x1="76.8" y1="349.83" x2="80" y2="349.83" stroke="#222" stroke-width="0.8"/>
<text x="64.70" y="352.43" font-size="7.60" textLength="11.40" lengthAdjust="spacingAndGlyphs" stroke="#000" stroke-width="0.12">120</text>
<line x1="76.8" y1="366.42" x2="80" y2="366.42" stroke="#222" stroke-width="0.8"/>
<text x="68.50" y="369.02" font-size="7.60" textLength="7.60" lengthAdjust="spacingAndGlyphs" stroke="#000" stroke-width="0.12">60</text>
<line x1="76.8" y1="383.00" x2="80" y2="383.00" stroke="#222" stroke-width="0.8"/>
<text x="72.30" y="385.60" font-size="7.60" textLength="3.80" lengthAdjust="spacingAndGlyphs" stroke="#000" stroke-width="0.12">0</text>
<line x1="76.8" y1="399.58" x2="80" y2="399.58" stroke="#222" stroke-width="0.8"/>
<text x="65.96" y="402.18" font-size="7.60" textLength="10.13" lengthAdjust="spacingAndGlyphs" stroke="#000" stroke-width="0.12">-60</text>
<line x1="76.8" y1="416.17" x2="80" y2="416.17" stroke="#222" stroke-width="0.8"/>
<text x="62.16" y="418.77" font-size="7.60" textLength="13.93" lengthAdjust="spacingAndGlyphs" stroke="#000" stroke-width="0.12">-120</text>
<line x1="76.8" y1="467.83" x2="80" y2="467.83" stroke="#222" stroke-width="0.8"/>
<text x="64.70" y="470.43" font-size="7.60" textLength="11.40" lengthAdjust="spacingAndGlyphs" stroke="#000" stroke-width="0.12">120</text>
<line x1="76.8" y1="484.42" x2="80" y2="484.42" stroke="#222" stroke-width="0.8"/>
<text x="68.50" y="487.02" font-size="7.60" textLength="7.60" lengthAdjust="spacingAndGlyphs" stroke="#000" stroke-width="0.12">60</text>
<line x1="76.8" y1="501.00" x2="80" y2="501.00" stroke="#222" stroke-width="0.8"/>
<text x="72.30" y="503.60" font-size="7.60" textLength="3.80" lengthAdjust="spacingAndGlyphs" stroke="#000" stroke-width="0.12">0</text>
<line x1="76.8" y1="517.58" x2="80" y2="517.58" stroke="#222" stroke-width="0.8"/>
<text x="65.96" y="520.18" font-size="7.60" textLength="10.13" lengthAdjust="spacingAndGlyphs" stroke="#000" stroke-width="0.12">-60</text>
<line x1="76.8" y1="534.17" x2="80" y2="534.17" stroke="#222" stroke-width="0.8"/>
<text x="62.16" y="536.77" font-size="7.60" textLength="13.93" lengthAdjust="spacingAndGlyphs" stroke="#000" stroke-width="0.12">-120</text>
<line x1="76.8" y1="585.83" x2="80" y2="585.83" stroke="#222" stroke-width="0.8"/>
<text x="64.70" y="588.43" font-size="7.60" textLength="11.40" lengthAdjust="spacingAndGlyphs" stroke="#000" stroke-width="0.12">120</text>
<line x1="76.8" y1="602.42" x2="80" y2="602.42" stroke="#222" stroke-width="0.8"/>
<text x="68.50" y="605.02" font-size="7.60" textLength="7.60" lengthAdjust="spacingAndGlyphs" stroke="#000" stroke-width="0.12">60</text>
<line x1="76.8" y1="619.00" x2="80" y2="619.00" stroke="#222" stroke-width="0.8"/>
<text x="72.30" y="621.60" font-size="7.60" textLength="3.80" lengthAdjust="spacingAndGlyphs" stroke="#000" stroke-width="0.12">0</text>
<line x1="76.8" y1="635.58" x2="80" y2="635.58" stroke="#222" stroke-width="0.8"/>
<text x="65.96" y="638.18" font-size="7.60" textLength="10.13" lengthAdjust="spacingAndGlyphs" stroke="#000" stroke-width="0.12">-60</text>
<line x1="76.8" y1="652.17" x2="80" y2="652.17" stroke="#222" stroke-width="0.8"/>
<text x="62.16" y="654.77" font-size="7.60" textLength="13.93" lengthAdjust="spacingAndGlyphs" stroke="#000" stroke-width="0.12">-120</text>
<line x1="76.8" y1="668.75" x2="80" y2="668.75" stroke="#222" stroke-width="0.8"/>
<text x="62.16" y="671.35" font-size="7.60" textLength="13.93" lengthAdjust="spacingAndGlyphs" stroke="#000" stroke-width="0.12">-180</text>
<line x1="80.00" y1="668.75" x2="80.00" y2="671.95" stroke="#222" stroke-width="0.8"/>
<text x="73.25" y="677.75" font-size="7.60" textLength="13.93" lengthAdjust="spacingAndGlyphs" stroke="#000" stroke-width="0.12">-180</text>
<line x1="96.67" y1="668.75" x2="96.67" y2="671.95" stroke="#222" stroke-width="0.8"/>
<text x="89.91" y="677.75" font-size="7.60" textLength="13.93" lengthAdjust="spacingAndGlyphs" stroke="#000" stroke-width="0.12">-120</text>
<line x1="113.33" y1="668.75" x2="113.33" y2="671.95" stroke="#222" stroke-width="0.8"/>
<text x="108.48" y="677.75" font-size="7.60" textLength="10.13" lengthAdjust="spacingAndGlyphs" stroke="#000" stroke-width="0.12">-60</text>
<line x1="130.00" y1="668.75" x2="130.00" y2="671.95" stroke="#222" stroke-width="0.8"/>
<text x="128.30" y="677.75" font-size="7.60" textLength="3.80" lengthAdjust="spacingAndGlyphs" stroke="#000" stroke-width="0.12">0</text>
<line x1="146.67" y1="668.75" x2="146.67" y2="671.95" stroke="#222" stroke-width="0.8"/>
<text x="143.07" y="677.75" font-size="7.60" textLength="7.60" lengthAdjust="spacingAndGlyphs" stroke="#000" stroke-width="0.12">60</text>
<line x1="163.33" y1="668.75" x2="163.33" y2="671.95" stroke="#222" stroke-width="0.8"/>
<text x="157.66" y="677.75" font-size="7.60" textLength="11.40" lengthAdjust="spacingAndGlyphs" stroke="#000" stroke-width="0.12">120</text>
<line x1="180.00" y1="668.75" x2="180.00" y2="671.95" stroke="#222" stroke-width="0.8"/>
<text x="173.25" y="677.75" font-size="7.60" textLength="13.93" lengthAdjust="spacingAndGlyphs" stroke="#000" stroke-width="0.12">-180</text>
<line x1="196.67" y1="668.75" x2="196.67" y2="671.95" stroke="#222" stroke-width="0.8"/>
<text x="189.91" y="677.75" font-size="7.60" textLength="13.93" lengthAdjust="spacingAndGlyphs" stroke="#000" stroke-width="0.12">-120</text>
<line x1="213.33" y1="668.75" x2="213.33" y2="671.95" stroke="#222" stroke-width="0.8"/>
<text x="208.48" y="677.75" font-size="7.60" textLength="10.13" lengthAdjust="spacingAndGlyphs" stroke="#000" stroke-width="0.12">-60</text>
<line x1="230.00" y1="668.75" x2="230.00" y2="671.95" stroke="#222" stroke-width="0.8"/>
<text x="228.30" y="677.75" font-size="7.60" textLength="3.80" lengthAdjust="spacingAndGlyphs" stroke="#000" stroke-width="0.12">0</text>
<line x1="246.67" y1="668.75" x2="246.67" y2="671.95" stroke="#222" stroke-width="0.8"/>
<text x="243.07" y="677.75" font-size="7.60" textLength="7.60" lengthAdjust="spacingAndGlyphs" stroke="#000" stroke-width="0.12">60</text>
<line x1="263.33" y1="668.75" x2="263.33" y2="671.95" stroke="#222" stroke-width="0.8"/>
<text x="257.66" y="677.75" font-size="7.60" textLength="11.40" lengthAdjust="spacingAndGlyphs" stroke="#000" stroke-width="0.12">120</text>
<line x1="280.00" y1="668.75" x2="280.00" y2="671.95" stroke="#222" stroke-width="0.8"/>
<text x="273.25" y="677.75" font-size="7.60" textLength="13.93" lengthAdjust="spacingAndGlyphs" stroke="#000" stroke-width="0.12">-180</text>
<line x1="296.67" y1="668.75" x2="296.67" y2="671.95" stroke="#222" stroke-width="0.8"/>
<text x="289.91" y="677.75" font-size="7.60" textLength="13.93" lengthAdjust="spacingAndGlyphs" stroke="#000" stroke-width="0.12">-120</text>
<line x1="313.33" y1="668.75" x2="313.33" y2="671.95" stroke="#222" stroke-width="0.8"/>
<text x="308.48" y="677.75" font-size="7.60" textLength="10.13" lengthAdjust="spacingAndGlyphs" stroke="#000" stroke-width="0.12">-60</text>
<line x1="330.00" y1="668.75" x2="330.00" y2="671.95" stroke="#222" stroke-width="0.8"/>
<text x="328.30" y="677.75" font-size="7.60" textLength="3.80" lengthAdjust="spacingAndGlyphs" stroke="#000" stroke-width="0.12">0</text>
<line x1="346.67" y1="668.75" x2="346.67" y2="671.95" stroke="#222" stroke-width="0.8"/>
<text x="343.07" y="677.75" font-size="7.60" textLength="7.60" lengthAdjust="spacingAndGlyphs" stroke="#000" stroke-width="0.12">60</text>
<line x1="363.33" y1="668.75" x2="363.33" y2="671.95" stroke="#222" stroke-width="0.8"/>
<text x="357.66" y="677.75" font-size="7.60" textLength="11.40" lengthAdjust="spacingAndGlyphs" stroke="#000" stroke-width="0.12">120</text>
<line x1="380.00" y1="668.75" x2="380.00" y2="671.95" stroke="#222" stroke-width="0.8"/>
<text x="373.25" y="677.75" font-size="7.60" textLength="13.93" lengthAdjust="spacingAndGlyphs" stroke="#000" stroke-width="0.12">-180</text>
<line x1="396.67" y1="668.75" x2="396.67" y2="671.95" stroke="#222" stroke-width="0.8"/>
<text x="389.91" y="677.75" font-size="7.60" textLength="13.93" lengthAdjust="spacingAndGlyphs" stroke="#000" stroke-width="0.12">-120</text>
<line x1="413.33" y1="668.75" x2="413.33" y2="671.95" stroke="#222" stroke-width="0.8"/>
<text x="408.48" y="677.75" font-size="7.60" textLength="10.13" lengthAdjust="spacingAndGlyphs" stroke="#000" stroke-width="0.12">-60</text>
<line x1="430.00" y1="668.75" x2="430.00" y2="671.95" stroke="#222" stroke-width="0.8"/>
<text x="428.30" y="677.75" font-size="7.60" textLength="3.80" lengthAdjust="spacingAndGlyphs" stroke="#000" stroke-width="0.12">0</text>
<line x1="446.67" y1="668.75" x2="446.67" y2="671.95" stroke="#222" stroke-width="0.8"/>
<text x="443.07" y="677.75" font-size="7.60" textLength="7.60" lengthAdjust="spacingAndGlyphs" stroke="#000" stroke-width="0.12">60</text>
<line x1="463.33" y1="668.75" x2="463.33" y2="671.95" stroke="#222" stroke-width="0.8"/>
<text x="457.66" y="677.75" font-size="7.60" textLength="11.40" lengthAdjust="spacingAndGlyphs" stroke="#000" stroke-width="0.12">120</text>
<line x1="480.00" y1="668.75" x2="480.00" y2="671.95" stroke="#222" stroke-width="0.8"/>
<text x="474.33" y="677.75" font-size="7.60" textLength="11.40" lengthAdjust="spacingAndGlyphs" stroke="#000" stroke-width="0.12">180</text>
<text x="232.06" y="694.70" font-size="17.00" textLength="96.24" lengthAdjust="spacingAndGlyphs">Phi (degrees)</text>
<g transform="translate(55.7 0) rotate(-90)"><text x="-429.54" y="0.00" font-size="17.00" textLength="93.31" lengthAdjust="spacingAndGlyphs">Psi (degrees)</text></g>
<text x="79.82" y="712.90" font-size="6.00" textLength="217.23" lengthAdjust="spacingAndGlyphs"><tspan font-style="italic">cv</tspan> = Circular Variance (low values signify high clustering of the data points).</text>
<polygon points="320.30,707.40 321.07,708.55 322.42,708.28 322.15,709.63 323.30,710.40 322.15,711.17 322.42,712.52 321.07,712.25 320.30,713.40 319.53,712.25 318.18,712.52 318.45,711.17 317.30,710.40 318.45,709.63 318.18,708.28 319.53,708.55" fill="#000"/>
<text x="327.93" y="712.90" font-size="6.00" textLength="29.99" lengthAdjust="spacingAndGlyphs">Accessible</text>
<circle cx="379.6" cy="710.4" r="2.5" fill="#f0f000" stroke="#3a3a00" stroke-width="0.9" stroke-dasharray="0.9 0.5"/>
<ellipse cx="379.6" cy="710.1" rx="1.0" ry="1.3" fill="#000"/>
<text x="387.79" y="712.90" font-size="6.00" textLength="19.50" lengthAdjust="spacingAndGlyphs">Buried</text>
<text x="79.82" y="720.30" font-size="6.00" textLength="410.44" lengthAdjust="spacingAndGlyphs">Gf = Average G-factor for the residue (the higher the value the more favourable the conformations) based on analysis of high-res. Xtal structures</text>
<text x="79.89" y="728.50" font-size="6.00" textLength="121.67" lengthAdjust="spacingAndGlyphs">Data points coloured according to G-factor:</text>
<text x="219.79" y="728.50" font-size="6.00" textLength="31.44" lengthAdjust="spacingAndGlyphs" style="fill:#e8e800">Favourable</text>
<text x="269.86" y="728.50" font-size="6.00" textLength="37.36" lengthAdjust="spacingAndGlyphs" style="fill:#d00000">Unfavourable</text>
<text x="29.65" y="751.40" font-size="9.30" textLength="158.69" lengthAdjust="spacingAndGlyphs">SR478_R3_em_bcr3_08_ensramach.ps</text>
<text x="442.20" y="751.70" font-size="9.30" textLength="101.46" lengthAdjust="spacingAndGlyphs">** Selected residues only</text>
</svg></body></html>
